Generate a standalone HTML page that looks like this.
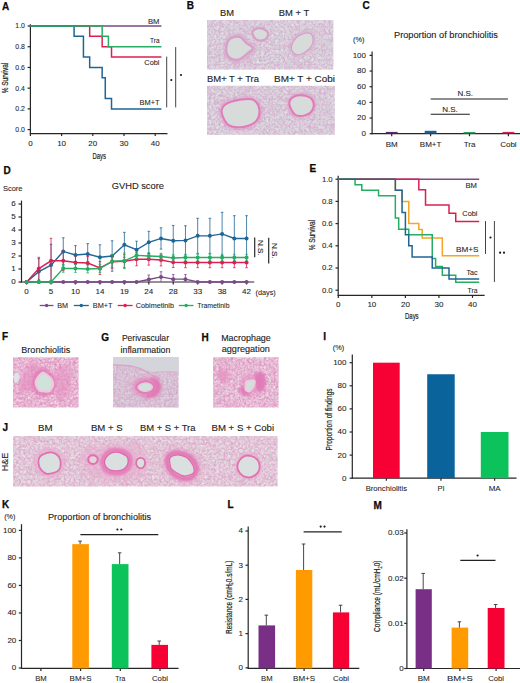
<!DOCTYPE html>
<html><head><meta charset="utf-8"><title>Figure</title>
<style>
html,body{margin:0;padding:0;background:#fff;}
body{width:520px;height:683px;overflow:hidden;}
svg{display:block;}
text{font-family:"Liberation Sans",sans-serif;}
</style></head><body>
<svg width="520" height="683" viewBox="0 0 520 683">
<defs><filter id="f1" x="0" y="0" width="1" height="1" color-interpolation-filters="sRGB"><feTurbulence type="fractalNoise" baseFrequency="0.42" numOctaves="3" seed="8"/><feColorMatrix type="matrix" values="0.16 0 0 0 0.7710  0.16 -0.2 0 0 0.8318  0.16 -0.070 0 0 0.8138  0 0 0 0 1"/></filter><filter id="v1" x="0" y="0" width="1" height="1" color-interpolation-filters="sRGB"><feTurbulence type="turbulence" baseFrequency="0.2" numOctaves="2" seed="11"/><feColorMatrix type="matrix" values="0 0 0 0 0.835  0 0 0 0 0.565  0 0 0 0 0.769  -4 0 0 0 1"/></filter><filter id="f2" x="0" y="0" width="1" height="1" color-interpolation-filters="sRGB"><feTurbulence type="fractalNoise" baseFrequency="0.42" numOctaves="3" seed="15"/><feColorMatrix type="matrix" values="0.16 0 0 0 0.7710  0.16 -0.2 0 0 0.8318  0.16 -0.070 0 0 0.8138  0 0 0 0 1"/></filter><filter id="v2" x="0" y="0" width="1" height="1" color-interpolation-filters="sRGB"><feTurbulence type="turbulence" baseFrequency="0.2" numOctaves="2" seed="18"/><feColorMatrix type="matrix" values="0 0 0 0 0.835  0 0 0 0 0.565  0 0 0 0 0.769  -4 0 0 0 1"/></filter><filter id="f3" x="0" y="0" width="1" height="1" color-interpolation-filters="sRGB"><feTurbulence type="fractalNoise" baseFrequency="0.42" numOctaves="3" seed="22"/><feColorMatrix type="matrix" values="0.16 0 0 0 0.7710  0.16 -0.2 0 0 0.8318  0.16 -0.070 0 0 0.8138  0 0 0 0 1"/></filter><filter id="v3" x="0" y="0" width="1" height="1" color-interpolation-filters="sRGB"><feTurbulence type="turbulence" baseFrequency="0.2" numOctaves="2" seed="25"/><feColorMatrix type="matrix" values="0 0 0 0 0.835  0 0 0 0 0.565  0 0 0 0 0.769  -4 0 0 0 1"/></filter><filter id="f4" x="0" y="0" width="1" height="1" color-interpolation-filters="sRGB"><feTurbulence type="fractalNoise" baseFrequency="0.42" numOctaves="3" seed="29"/><feColorMatrix type="matrix" values="0.16 0 0 0 0.7710  0.16 -0.2 0 0 0.8318  0.16 -0.070 0 0 0.8138  0 0 0 0 1"/></filter><filter id="v4" x="0" y="0" width="1" height="1" color-interpolation-filters="sRGB"><feTurbulence type="turbulence" baseFrequency="0.2" numOctaves="2" seed="32"/><feColorMatrix type="matrix" values="0 0 0 0 0.835  0 0 0 0 0.565  0 0 0 0 0.769  -4 0 0 0 1"/></filter><filter id="f5" x="0" y="0" width="1" height="1" color-interpolation-filters="sRGB"><feTurbulence type="fractalNoise" baseFrequency="0.42" numOctaves="3" seed="36"/><feColorMatrix type="matrix" values="0.28 0 0 0 0.7698  0.28 -0.3 0 0 0.7316  0.28 -0.105 0 0 0.7439  0 0 0 0 1"/></filter><filter id="v5" x="0" y="0" width="1" height="1" color-interpolation-filters="sRGB"><feTurbulence type="turbulence" baseFrequency="0.2" numOctaves="2" seed="39"/><feColorMatrix type="matrix" values="0 0 0 0 0.878  0 0 0 0 0.518  0 0 0 0 0.737  -4 0 0 0 1"/></filter><filter id="f6" x="0" y="0" width="1" height="1" color-interpolation-filters="sRGB"><feTurbulence type="fractalNoise" baseFrequency="0.42" numOctaves="3" seed="43"/><feColorMatrix type="matrix" values="0.16 0 0 0 0.7671  0.16 -0.2 0 0 0.7886  0.16 -0.070 0 0 0.7942  0 0 0 0 1"/></filter><filter id="v6" x="0" y="0" width="1" height="1" color-interpolation-filters="sRGB"><feTurbulence type="turbulence" baseFrequency="0.2" numOctaves="2" seed="46"/><feColorMatrix type="matrix" values="0 0 0 0 0.839  0 0 0 0 0.549  0 0 0 0 0.753  -4 0 0 0 1"/></filter><filter id="f7" x="0" y="0" width="1" height="1" color-interpolation-filters="sRGB"><feTurbulence type="fractalNoise" baseFrequency="0.42" numOctaves="3" seed="50"/><feColorMatrix type="matrix" values="0.28 0 0 0 0.7620  0.28 -0.3 0 0 0.7512  0.28 -0.105 0 0 0.7517  0 0 0 0 1"/></filter><filter id="v7" x="0" y="0" width="1" height="1" color-interpolation-filters="sRGB"><feTurbulence type="turbulence" baseFrequency="0.2" numOctaves="2" seed="53"/><feColorMatrix type="matrix" values="0 0 0 0 0.878  0 0 0 0 0.518  0 0 0 0 0.737  -4 0 0 0 1"/></filter><filter id="f8" x="0" y="0" width="1" height="1" color-interpolation-filters="sRGB"><feTurbulence type="fractalNoise" baseFrequency="0.42" numOctaves="3" seed="57"/><feColorMatrix type="matrix" values="0.2 0 0 0 0.7863  0.2 -0.2 0 0 0.8000  0.2 -0.070 0 0 0.7899  0 0 0 0 1"/></filter><filter id="v8" x="0" y="0" width="1" height="1" color-interpolation-filters="sRGB"><feTurbulence type="turbulence" baseFrequency="0.2" numOctaves="2" seed="60"/><feColorMatrix type="matrix" values="0 0 0 0 0.878  0 0 0 0 0.549  0 0 0 0 0.753  -4 0 0 0 1"/></filter><filter id="bl1" x="-50%" y="-50%" width="200%" height="200%"><feGaussianBlur stdDeviation="0.5"/></filter><filter id="bl2" x="-50%" y="-50%" width="200%" height="200%"><feGaussianBlur stdDeviation="1.0"/></filter><filter id="bl3" x="-50%" y="-50%" width="200%" height="200%"><feGaussianBlur stdDeviation="1.5"/></filter><filter id="bl4" x="-50%" y="-50%" width="200%" height="200%"><feGaussianBlur stdDeviation="2.0"/></filter><filter id="bl5" x="-50%" y="-50%" width="200%" height="200%"><feGaussianBlur stdDeviation="2.5"/></filter><filter id="bl6" x="-50%" y="-50%" width="200%" height="200%"><feGaussianBlur stdDeviation="3.0"/></filter></defs>
<rect width="520" height="683" fill="#fff"/>
<text x="1.90" y="9.60" font-size="10" font-weight="bold" fill="#0a0a0a" stroke="#0a0a0a" stroke-width="0.25">A</text>
<line x1="30.40" y1="24.20" x2="30.40" y2="134.10" stroke="#262626" stroke-width="1.2"/>
<line x1="29.90" y1="133.60" x2="167.50" y2="133.60" stroke="#262626" stroke-width="1.2"/>
<line x1="27.60" y1="129.60" x2="30.40" y2="129.60" stroke="#262626" stroke-width="1.2"/>
<text x="24.90" y="132.00" font-size="8" text-anchor="end" fill="#1e1e1e" stroke="#1e1e1e" stroke-width="0.08" textLength="9.60" lengthAdjust="spacingAndGlyphs">0.0</text>
<line x1="27.60" y1="108.88" x2="30.40" y2="108.88" stroke="#262626" stroke-width="1.2"/>
<text x="24.90" y="111.28" font-size="8" text-anchor="end" fill="#1e1e1e" stroke="#1e1e1e" stroke-width="0.08" textLength="9.60" lengthAdjust="spacingAndGlyphs">0.2</text>
<line x1="27.60" y1="88.16" x2="30.40" y2="88.16" stroke="#262626" stroke-width="1.2"/>
<text x="24.90" y="90.56" font-size="8" text-anchor="end" fill="#1e1e1e" stroke="#1e1e1e" stroke-width="0.08" textLength="9.60" lengthAdjust="spacingAndGlyphs">0.4</text>
<line x1="27.60" y1="67.44" x2="30.40" y2="67.44" stroke="#262626" stroke-width="1.2"/>
<text x="24.90" y="69.84" font-size="8" text-anchor="end" fill="#1e1e1e" stroke="#1e1e1e" stroke-width="0.08" textLength="9.60" lengthAdjust="spacingAndGlyphs">0.6</text>
<line x1="27.60" y1="46.72" x2="30.40" y2="46.72" stroke="#262626" stroke-width="1.2"/>
<text x="24.90" y="49.12" font-size="8" text-anchor="end" fill="#1e1e1e" stroke="#1e1e1e" stroke-width="0.08" textLength="9.60" lengthAdjust="spacingAndGlyphs">0.8</text>
<line x1="27.60" y1="26.00" x2="30.40" y2="26.00" stroke="#262626" stroke-width="1.2"/>
<text x="24.90" y="28.40" font-size="8" text-anchor="end" fill="#1e1e1e" stroke="#1e1e1e" stroke-width="0.08" textLength="9.60" lengthAdjust="spacingAndGlyphs">1.0</text>
<line x1="30.40" y1="133.60" x2="30.40" y2="136.10" stroke="#262626" stroke-width="1.2"/>
<text x="30.40" y="146.00" font-size="8" text-anchor="middle" fill="#1e1e1e" stroke="#1e1e1e" stroke-width="0.08">0</text>
<line x1="61.60" y1="133.60" x2="61.60" y2="136.10" stroke="#262626" stroke-width="1.2"/>
<text x="61.60" y="146.00" font-size="8" text-anchor="middle" fill="#1e1e1e" stroke="#1e1e1e" stroke-width="0.08">10</text>
<line x1="92.80" y1="133.60" x2="92.80" y2="136.10" stroke="#262626" stroke-width="1.2"/>
<text x="92.80" y="146.00" font-size="8" text-anchor="middle" fill="#1e1e1e" stroke="#1e1e1e" stroke-width="0.08">20</text>
<line x1="124.00" y1="133.60" x2="124.00" y2="136.10" stroke="#262626" stroke-width="1.2"/>
<text x="124.00" y="146.00" font-size="8" text-anchor="middle" fill="#1e1e1e" stroke="#1e1e1e" stroke-width="0.08">30</text>
<line x1="155.20" y1="133.60" x2="155.20" y2="136.10" stroke="#262626" stroke-width="1.2"/>
<text x="155.20" y="146.00" font-size="8" text-anchor="middle" fill="#1e1e1e" stroke="#1e1e1e" stroke-width="0.08">40</text>
<text x="99.30" y="158.60" font-size="9" text-anchor="middle" fill="#1e1e1e" stroke="#1e1e1e" stroke-width="0.2" textLength="13.40" lengthAdjust="spacingAndGlyphs">Days</text>
<text x="8.10" y="78.00" font-size="8.8" text-anchor="middle" fill="#1e1e1e" stroke="#1e1e1e" stroke-width="0.2" textLength="30.50" lengthAdjust="spacingAndGlyphs" transform="rotate(-90 8.10 78.00)">% Survival</text>
<polyline points="30.40,26.00 161.44,26.00" fill="none" stroke="#7a4a88" stroke-width="1.5" stroke-linejoin="miter"/>
<polyline points="30.40,26.00 89.68,26.00 89.68,36.36 102.16,36.36 102.16,46.72 111.52,46.72 111.52,57.08 161.44,57.08" fill="none" stroke="#dc1f52" stroke-width="1.5" stroke-linejoin="miter"/>
<polyline points="30.40,26.00 74.08,26.00 74.08,36.36 83.44,36.36 83.44,57.08 89.68,57.08 89.68,67.44 102.16,67.44 102.16,77.80 105.28,77.80 105.28,98.52 111.52,98.52 111.52,108.88 161.44,108.88" fill="none" stroke="#1f6696" stroke-width="1.5" stroke-linejoin="miter"/>
<polyline points="30.40,26.00 102.16,26.00 102.16,36.36 108.40,36.36 108.40,46.72 161.44,46.72" fill="none" stroke="#25ad62" stroke-width="1.5" stroke-linejoin="miter"/>
<text x="159.50" y="23.70" font-size="7.5" text-anchor="end" fill="#1e1e1e" stroke="#1e1e1e" stroke-width="0.08" textLength="11.50" lengthAdjust="spacingAndGlyphs">BM</text>
<text x="159.50" y="43.30" font-size="7.5" text-anchor="end" fill="#1e1e1e" stroke="#1e1e1e" stroke-width="0.08" textLength="9.50" lengthAdjust="spacingAndGlyphs">Tra</text>
<text x="159.50" y="65.20" font-size="7.5" text-anchor="end" fill="#1e1e1e" stroke="#1e1e1e" stroke-width="0.08" textLength="15.20" lengthAdjust="spacingAndGlyphs">Cobi</text>
<text x="159.50" y="105.10" font-size="7.5" text-anchor="end" fill="#1e1e1e" stroke="#1e1e1e" stroke-width="0.08" textLength="20.00" lengthAdjust="spacingAndGlyphs">BM+T</text>
<line x1="166.70" y1="56.60" x2="166.70" y2="107.40" stroke="#444" stroke-width="1"/>
<line x1="175.70" y1="47.10" x2="175.70" y2="107.40" stroke="#444" stroke-width="1"/>
<circle cx="171.30" cy="80.00" r="1.1" fill="#1a1a1a"/>
<circle cx="181.00" cy="75.00" r="1.1" fill="#1a1a1a"/>
<text x="186.70" y="9.20" font-size="10" font-weight="bold" fill="#0a0a0a" stroke="#0a0a0a" stroke-width="0.25">B</text>
<text x="220.00" y="16.10" font-size="8.5" text-anchor="start" fill="#1e1e1e" stroke="#1e1e1e" stroke-width="0.12" textLength="14.00" lengthAdjust="spacingAndGlyphs">BM</text>
<text x="278.80" y="16.10" font-size="8.5" text-anchor="start" fill="#1e1e1e" stroke="#1e1e1e" stroke-width="0.12" textLength="30.40" lengthAdjust="spacingAndGlyphs">BM + T</text>
<text x="207.00" y="82.00" font-size="8.5" text-anchor="start" fill="#1e1e1e" stroke="#1e1e1e" stroke-width="0.12" textLength="52.00" lengthAdjust="spacingAndGlyphs">BM+ T + Tra</text>
<text x="274.00" y="82.00" font-size="8.5" text-anchor="start" fill="#1e1e1e" stroke="#1e1e1e" stroke-width="0.12" textLength="61.00" lengthAdjust="spacingAndGlyphs">BM+ T + Cobi</text>
<clipPath id="c1"><rect x="207" y="20" width="63" height="49.5"/></clipPath>
<g clip-path="url(#c1)">
<rect x="207" y="20" width="63" height="49.5" fill="#d9cfdb" filter="url(#f1)"/>
<rect x="207" y="20" width="63" height="49.5" fill="#fff" filter="url(#v1)" opacity="0.45"/>
<path d="M226.30,47.34 C226.52,44.68 227.70,41.42 229.13,39.67 C230.56,37.92 232.96,37.23 234.89,36.84 C236.82,36.45 238.86,36.34 240.71,37.34 C242.57,38.35 244.02,41.09 246.02,42.87 C248.02,44.64 252.41,46.29 252.70,48.00 C252.99,49.72 249.87,51.33 247.76,53.16 C245.65,54.99 242.49,57.94 240.03,58.98 C237.58,60.02 235.07,59.96 233.04,59.41 C231.01,58.85 228.97,57.64 227.85,55.63 C226.73,53.62 226.09,50.00 226.30,47.34Z" fill="none" stroke="#d6a4cb" stroke-width="6" stroke-linejoin="round" opacity="0.7" filter="url(#bl3)"/>
<path d="M226.30,47.34 C226.52,44.68 227.70,41.42 229.13,39.67 C230.56,37.92 232.96,37.23 234.89,36.84 C236.82,36.45 238.86,36.34 240.71,37.34 C242.57,38.35 244.02,41.09 246.02,42.87 C248.02,44.64 252.41,46.29 252.70,48.00 C252.99,49.72 249.87,51.33 247.76,53.16 C245.65,54.99 242.49,57.94 240.03,58.98 C237.58,60.02 235.07,59.96 233.04,59.41 C231.01,58.85 228.97,57.64 227.85,55.63 C226.73,53.62 226.09,50.00 226.30,47.34Z" fill="#d7dcdb" stroke="#d8a0c8" stroke-width="2.2" stroke-linejoin="round" opacity="1" filter="url(#bl1)"/>
<path d="M252.31,32.83 C252.12,31.12 253.64,29.95 255.11,29.20 C256.58,28.44 259.15,27.91 261.15,28.31 C263.15,28.71 266.05,30.25 267.13,31.59 C268.21,32.94 268.24,34.96 267.64,36.38 C267.04,37.79 265.44,39.55 263.55,40.07 C261.65,40.58 258.15,40.66 256.27,39.45 C254.40,38.25 252.51,34.54 252.31,32.83Z" fill="none" stroke="#d6a4cb" stroke-width="3" stroke-linejoin="round" opacity="0.45" filter="url(#bl3)"/>
<path d="M252.31,32.83 C252.12,31.12 253.64,29.95 255.11,29.20 C256.58,28.44 259.15,27.91 261.15,28.31 C263.15,28.71 266.05,30.25 267.13,31.59 C268.21,32.94 268.24,34.96 267.64,36.38 C267.04,37.79 265.44,39.55 263.55,40.07 C261.65,40.58 258.15,40.66 256.27,39.45 C254.40,38.25 252.51,34.54 252.31,32.83Z" fill="#d7dcdb" stroke="#d8a0c8" stroke-width="2.2" stroke-linejoin="round" opacity="1" filter="url(#bl1)"/>
</g>
<clipPath id="c2"><rect x="270" y="20" width="63.4" height="49.5"/></clipPath>
<g clip-path="url(#c2)">
<rect x="270" y="20" width="63.4" height="49.5" fill="#d9cfdb" filter="url(#f2)"/>
<rect x="270" y="20" width="63.4" height="49.5" fill="#fff" filter="url(#v2)" opacity="0.45"/>
<path d="M291.39,48.47 C291.15,45.96 293.00,41.90 294.93,39.46 C296.86,37.01 300.46,34.79 303.00,33.80 C305.54,32.81 308.51,32.57 310.20,33.52 C311.89,34.48 312.96,37.41 313.12,39.56 C313.27,41.70 312.63,44.21 311.13,46.39 C309.64,48.58 306.61,51.34 304.15,52.69 C301.69,54.05 298.51,55.23 296.38,54.53 C294.25,53.82 291.64,50.98 291.39,48.47Z" fill="none" stroke="#d6a4cb" stroke-width="6" stroke-linejoin="round" opacity="0.5" filter="url(#bl3)"/>
<path d="M291.39,48.47 C291.15,45.96 293.00,41.90 294.93,39.46 C296.86,37.01 300.46,34.79 303.00,33.80 C305.54,32.81 308.51,32.57 310.20,33.52 C311.89,34.48 312.96,37.41 313.12,39.56 C313.27,41.70 312.63,44.21 311.13,46.39 C309.64,48.58 306.61,51.34 304.15,52.69 C301.69,54.05 298.51,55.23 296.38,54.53 C294.25,53.82 291.64,50.98 291.39,48.47Z" fill="#d7dcdb" stroke="#d8a0c8" stroke-width="1.2" stroke-linejoin="round" opacity="1" filter="url(#bl1)"/>
</g>
<clipPath id="c3"><rect x="207" y="85.7" width="63" height="49"/></clipPath>
<g clip-path="url(#c3)">
<rect x="207" y="85.7" width="63" height="49" fill="#d9cfdb" filter="url(#f3)"/>
<rect x="207" y="85.7" width="63" height="49" fill="#fff" filter="url(#v3)" opacity="0.45"/>
<path d="M221.80,113.05 C221.17,109.56 222.41,106.67 225.43,104.46 C228.44,102.26 235.32,100.61 239.88,99.81 C244.45,99.00 249.60,98.12 252.81,99.62 C256.03,101.11 258.55,105.28 259.18,108.77 C259.80,112.26 259.05,117.58 256.56,120.57 C254.07,123.55 248.82,125.87 244.26,126.67 C239.69,127.48 232.93,127.66 229.19,125.39 C225.45,123.12 222.43,116.53 221.80,113.05Z" fill="none" stroke="#e090c4" stroke-width="5" stroke-linejoin="round" opacity="0.6" filter="url(#bl3)"/>
<path d="M221.80,113.05 C221.17,109.56 222.41,106.67 225.43,104.46 C228.44,102.26 235.32,100.61 239.88,99.81 C244.45,99.00 249.60,98.12 252.81,99.62 C256.03,101.11 258.55,105.28 259.18,108.77 C259.80,112.26 259.05,117.58 256.56,120.57 C254.07,123.55 248.82,125.87 244.26,126.67 C239.69,127.48 232.93,127.66 229.19,125.39 C225.45,123.12 222.43,116.53 221.80,113.05Z" fill="#d7dcdb" stroke="#e27cb8" stroke-width="2.0" stroke-linejoin="round" opacity="1" filter="url(#bl1)"/>
</g>
<clipPath id="c4"><rect x="270" y="85.7" width="64.8" height="49"/></clipPath>
<g clip-path="url(#c4)">
<rect x="270" y="85.7" width="64.8" height="49" fill="#d9cfdb" filter="url(#f4)"/>
<rect x="270" y="85.7" width="64.8" height="49" fill="#fff" filter="url(#v4)" opacity="0.45"/>
<path d="M289.31,103.88 C289.12,100.85 291.50,97.95 294.19,96.62 C296.87,95.28 302.34,95.22 305.40,95.87 C308.47,96.52 311.40,98.25 312.60,100.51 C313.80,102.78 313.82,107.01 312.61,109.45 C311.41,111.89 308.26,114.25 305.38,115.14 C302.49,116.03 297.99,116.66 295.31,114.78 C292.63,112.90 289.49,106.91 289.31,103.88Z" fill="none" stroke="#e090c4" stroke-width="5" stroke-linejoin="round" opacity="0.6" filter="url(#bl3)"/>
<path d="M289.31,103.88 C289.12,100.85 291.50,97.95 294.19,96.62 C296.87,95.28 302.34,95.22 305.40,95.87 C308.47,96.52 311.40,98.25 312.60,100.51 C313.80,102.78 313.82,107.01 312.61,109.45 C311.41,111.89 308.26,114.25 305.38,115.14 C302.49,116.03 297.99,116.66 295.31,114.78 C292.63,112.90 289.49,106.91 289.31,103.88Z" fill="#d7dcdb" stroke="#e27cb8" stroke-width="2.0" stroke-linejoin="round" opacity="1" filter="url(#bl1)"/>
</g>
<text x="362.50" y="9.40" font-size="10" font-weight="bold" fill="#0a0a0a" stroke="#0a0a0a" stroke-width="0.25">C</text>
<text x="394.00" y="38.00" font-size="8.5" text-anchor="start" fill="#1e1e1e" stroke="#1e1e1e" stroke-width="0.12" textLength="103.90" lengthAdjust="spacingAndGlyphs">Proportion of bronchiolitis</text>
<text x="353.10" y="41.70" font-size="7.4" text-anchor="start" fill="#1e1e1e" stroke="#1e1e1e" stroke-width="0.08" textLength="11.40" lengthAdjust="spacingAndGlyphs">(%)</text>
<line x1="372.10" y1="51.50" x2="372.10" y2="134.20" stroke="#262626" stroke-width="1.2"/>
<line x1="371.60" y1="133.70" x2="520.00" y2="133.70" stroke="#262626" stroke-width="1.2"/>
<line x1="369.60" y1="133.70" x2="372.10" y2="133.70" stroke="#262626" stroke-width="1.2"/>
<text x="366.00" y="136.10" font-size="8" text-anchor="end" fill="#1e1e1e" stroke="#1e1e1e" stroke-width="0.08">0</text>
<line x1="369.60" y1="118.04" x2="372.10" y2="118.04" stroke="#262626" stroke-width="1.2"/>
<text x="366.00" y="120.44" font-size="8" text-anchor="end" fill="#1e1e1e" stroke="#1e1e1e" stroke-width="0.08">20</text>
<line x1="369.60" y1="102.38" x2="372.10" y2="102.38" stroke="#262626" stroke-width="1.2"/>
<text x="366.00" y="104.78" font-size="8" text-anchor="end" fill="#1e1e1e" stroke="#1e1e1e" stroke-width="0.08">40</text>
<line x1="369.60" y1="86.72" x2="372.10" y2="86.72" stroke="#262626" stroke-width="1.2"/>
<text x="366.00" y="89.12" font-size="8" text-anchor="end" fill="#1e1e1e" stroke="#1e1e1e" stroke-width="0.08">60</text>
<line x1="369.60" y1="71.06" x2="372.10" y2="71.06" stroke="#262626" stroke-width="1.2"/>
<text x="366.00" y="73.46" font-size="8" text-anchor="end" fill="#1e1e1e" stroke="#1e1e1e" stroke-width="0.08">80</text>
<line x1="369.60" y1="55.40" x2="372.10" y2="55.40" stroke="#262626" stroke-width="1.2"/>
<text x="366.00" y="57.80" font-size="8" text-anchor="end" fill="#1e1e1e" stroke="#1e1e1e" stroke-width="0.08">100</text>
<rect x="385.80" y="131.90" width="11.80" height="1.60" fill="#5a2d6a"/>
<line x1="391.70" y1="133.70" x2="391.70" y2="136.20" stroke="#262626" stroke-width="1.2"/>
<text x="391.70" y="146.60" font-size="8" text-anchor="middle" fill="#1e1e1e" stroke="#1e1e1e" stroke-width="0.08">BM</text>
<rect x="424.70" y="130.80" width="11.80" height="2.70" fill="#1f5f96"/>
<line x1="430.60" y1="133.70" x2="430.60" y2="136.20" stroke="#262626" stroke-width="1.2"/>
<text x="430.60" y="146.60" font-size="8" text-anchor="middle" fill="#1e1e1e" stroke="#1e1e1e" stroke-width="0.08">BM+T</text>
<rect x="463.60" y="132.00" width="11.80" height="1.50" fill="#2a9f60"/>
<line x1="469.50" y1="133.70" x2="469.50" y2="136.20" stroke="#262626" stroke-width="1.2"/>
<text x="469.50" y="146.60" font-size="8" text-anchor="middle" fill="#1e1e1e" stroke="#1e1e1e" stroke-width="0.08">Tra</text>
<rect x="502.50" y="131.90" width="11.80" height="1.60" fill="#d42052"/>
<line x1="508.40" y1="133.70" x2="508.40" y2="136.20" stroke="#262626" stroke-width="1.2"/>
<text x="508.40" y="146.60" font-size="8" text-anchor="middle" fill="#1e1e1e" stroke="#1e1e1e" stroke-width="0.08">Cobi</text>
<line x1="430.70" y1="99.00" x2="507.90" y2="99.00" stroke="#1e1e1e" stroke-width="1.1"/>
<line x1="430.70" y1="114.30" x2="469.80" y2="114.30" stroke="#1e1e1e" stroke-width="1.1"/>
<text x="465.30" y="96.00" font-size="8" text-anchor="middle" fill="#1e1e1e" stroke="#1e1e1e" stroke-width="0.08">N.S.</text>
<text x="450.00" y="111.60" font-size="8" text-anchor="middle" fill="#1e1e1e" stroke="#1e1e1e" stroke-width="0.08">N.S.</text>
<text x="3.60" y="174.10" font-size="10" font-weight="bold" fill="#0a0a0a" stroke="#0a0a0a" stroke-width="0.25">D</text>
<text x="2.90" y="191.00" font-size="8" text-anchor="start" fill="#1e1e1e" stroke="#1e1e1e" stroke-width="0.08" textLength="19.60" lengthAdjust="spacingAndGlyphs">Score</text>
<text x="111.70" y="189.00" font-size="9.3" text-anchor="start" fill="#1e1e1e" stroke="#1e1e1e" stroke-width="0.12" textLength="52.30" lengthAdjust="spacingAndGlyphs">GVHD score</text>
<line x1="21.50" y1="200.60" x2="21.50" y2="282.50" stroke="#262626" stroke-width="1.2"/>
<line x1="21.00" y1="282.00" x2="254.20" y2="282.00" stroke="#262626" stroke-width="1.2"/>
<line x1="18.50" y1="282.00" x2="21.50" y2="282.00" stroke="#262626" stroke-width="1.2"/>
<text x="15.60" y="284.40" font-size="8" text-anchor="end" fill="#1e1e1e" stroke="#1e1e1e" stroke-width="0.08">0</text>
<line x1="18.50" y1="269.00" x2="21.50" y2="269.00" stroke="#262626" stroke-width="1.2"/>
<text x="15.60" y="271.40" font-size="8" text-anchor="end" fill="#1e1e1e" stroke="#1e1e1e" stroke-width="0.08">1</text>
<line x1="18.50" y1="256.00" x2="21.50" y2="256.00" stroke="#262626" stroke-width="1.2"/>
<text x="15.60" y="258.40" font-size="8" text-anchor="end" fill="#1e1e1e" stroke="#1e1e1e" stroke-width="0.08">2</text>
<line x1="18.50" y1="243.00" x2="21.50" y2="243.00" stroke="#262626" stroke-width="1.2"/>
<text x="15.60" y="245.40" font-size="8" text-anchor="end" fill="#1e1e1e" stroke="#1e1e1e" stroke-width="0.08">3</text>
<line x1="18.50" y1="230.00" x2="21.50" y2="230.00" stroke="#262626" stroke-width="1.2"/>
<text x="15.60" y="232.40" font-size="8" text-anchor="end" fill="#1e1e1e" stroke="#1e1e1e" stroke-width="0.08">4</text>
<line x1="18.50" y1="217.00" x2="21.50" y2="217.00" stroke="#262626" stroke-width="1.2"/>
<text x="15.60" y="219.40" font-size="8" text-anchor="end" fill="#1e1e1e" stroke="#1e1e1e" stroke-width="0.08">5</text>
<line x1="18.50" y1="204.00" x2="21.50" y2="204.00" stroke="#262626" stroke-width="1.2"/>
<text x="15.60" y="206.40" font-size="8" text-anchor="end" fill="#1e1e1e" stroke="#1e1e1e" stroke-width="0.08">6</text>
<line x1="26.60" y1="282.00" x2="26.60" y2="284.50" stroke="#262626" stroke-width="1.2"/>
<text x="26.60" y="294.20" font-size="8" text-anchor="middle" fill="#1e1e1e" stroke="#1e1e1e" stroke-width="0.08">0</text>
<line x1="51.04" y1="282.00" x2="51.04" y2="284.50" stroke="#262626" stroke-width="1.2"/>
<text x="51.04" y="294.20" font-size="8" text-anchor="middle" fill="#1e1e1e" stroke="#1e1e1e" stroke-width="0.08">5</text>
<line x1="75.48" y1="282.00" x2="75.48" y2="284.50" stroke="#262626" stroke-width="1.2"/>
<text x="75.48" y="294.20" font-size="8" text-anchor="middle" fill="#1e1e1e" stroke="#1e1e1e" stroke-width="0.08">10</text>
<line x1="99.92" y1="282.00" x2="99.92" y2="284.50" stroke="#262626" stroke-width="1.2"/>
<text x="99.92" y="294.20" font-size="8" text-anchor="middle" fill="#1e1e1e" stroke="#1e1e1e" stroke-width="0.08">14</text>
<line x1="124.36" y1="282.00" x2="124.36" y2="284.50" stroke="#262626" stroke-width="1.2"/>
<text x="124.36" y="294.20" font-size="8" text-anchor="middle" fill="#1e1e1e" stroke="#1e1e1e" stroke-width="0.08">19</text>
<line x1="148.80" y1="282.00" x2="148.80" y2="284.50" stroke="#262626" stroke-width="1.2"/>
<text x="148.80" y="294.20" font-size="8" text-anchor="middle" fill="#1e1e1e" stroke="#1e1e1e" stroke-width="0.08">24</text>
<line x1="173.24" y1="282.00" x2="173.24" y2="284.50" stroke="#262626" stroke-width="1.2"/>
<text x="173.24" y="294.20" font-size="8" text-anchor="middle" fill="#1e1e1e" stroke="#1e1e1e" stroke-width="0.08">28</text>
<line x1="197.68" y1="282.00" x2="197.68" y2="284.50" stroke="#262626" stroke-width="1.2"/>
<text x="197.68" y="294.20" font-size="8" text-anchor="middle" fill="#1e1e1e" stroke="#1e1e1e" stroke-width="0.08">33</text>
<line x1="222.12" y1="282.00" x2="222.12" y2="284.50" stroke="#262626" stroke-width="1.2"/>
<text x="222.12" y="294.20" font-size="8" text-anchor="middle" fill="#1e1e1e" stroke="#1e1e1e" stroke-width="0.08">38</text>
<line x1="246.56" y1="282.00" x2="246.56" y2="284.50" stroke="#262626" stroke-width="1.2"/>
<text x="246.56" y="294.20" font-size="8" text-anchor="middle" fill="#1e1e1e" stroke="#1e1e1e" stroke-width="0.08">42</text>
<text x="255.60" y="294.50" font-size="8" text-anchor="start" fill="#1e1e1e" stroke="#1e1e1e" stroke-width="0.08" textLength="20.20" lengthAdjust="spacingAndGlyphs">(days)</text>
<line x1="148.80" y1="274.98" x2="148.80" y2="282.00" stroke="#7a4a88" stroke-width="0.8"/>
<line x1="147.50" y1="274.98" x2="150.10" y2="274.98" stroke="#7a4a88" stroke-width="0.8"/>
<line x1="161.02" y1="271.73" x2="161.02" y2="282.00" stroke="#7a4a88" stroke-width="0.8"/>
<line x1="159.72" y1="271.73" x2="162.32" y2="271.73" stroke="#7a4a88" stroke-width="0.8"/>
<line x1="173.24" y1="274.59" x2="173.24" y2="282.00" stroke="#7a4a88" stroke-width="0.8"/>
<line x1="171.94" y1="274.59" x2="174.54" y2="274.59" stroke="#7a4a88" stroke-width="0.8"/>
<line x1="185.46" y1="274.59" x2="185.46" y2="282.00" stroke="#7a4a88" stroke-width="0.8"/>
<line x1="184.16" y1="274.59" x2="186.76" y2="274.59" stroke="#7a4a88" stroke-width="0.8"/>
<polyline points="26.60,282.00 38.82,282.00 51.04,282.00 63.26,282.00 75.48,282.00 87.70,282.00 99.92,282.00 112.14,282.00 124.36,282.00 136.58,282.00 148.80,279.53 161.02,276.93 173.24,279.14 185.46,279.14 197.68,282.00 209.90,282.00 222.12,282.00 234.34,282.00 246.56,282.00" fill="none" stroke="#7a4a88" stroke-width="1.4" stroke-linejoin="miter"/>
<circle cx="26.60" cy="282.00" r="2.0" fill="#7a4a88"/>
<circle cx="38.82" cy="282.00" r="2.0" fill="#7a4a88"/>
<circle cx="51.04" cy="282.00" r="2.0" fill="#7a4a88"/>
<circle cx="63.26" cy="282.00" r="2.0" fill="#7a4a88"/>
<circle cx="75.48" cy="282.00" r="2.0" fill="#7a4a88"/>
<circle cx="87.70" cy="282.00" r="2.0" fill="#7a4a88"/>
<circle cx="99.92" cy="282.00" r="2.0" fill="#7a4a88"/>
<circle cx="112.14" cy="282.00" r="2.0" fill="#7a4a88"/>
<circle cx="124.36" cy="282.00" r="2.0" fill="#7a4a88"/>
<circle cx="136.58" cy="282.00" r="2.0" fill="#7a4a88"/>
<circle cx="148.80" cy="279.53" r="2.0" fill="#7a4a88"/>
<circle cx="161.02" cy="276.93" r="2.0" fill="#7a4a88"/>
<circle cx="173.24" cy="279.14" r="2.0" fill="#7a4a88"/>
<circle cx="185.46" cy="279.14" r="2.0" fill="#7a4a88"/>
<circle cx="197.68" cy="282.00" r="2.0" fill="#7a4a88"/>
<circle cx="209.90" cy="282.00" r="2.0" fill="#7a4a88"/>
<circle cx="222.12" cy="282.00" r="2.0" fill="#7a4a88"/>
<circle cx="234.34" cy="282.00" r="2.0" fill="#7a4a88"/>
<circle cx="246.56" cy="282.00" r="2.0" fill="#7a4a88"/>
<line x1="38.82" y1="258.60" x2="38.82" y2="282.00" stroke="#1f6696" stroke-width="0.8"/>
<line x1="37.52" y1="258.60" x2="40.12" y2="258.60" stroke="#1f6696" stroke-width="0.8"/>
<line x1="51.04" y1="244.30" x2="51.04" y2="282.00" stroke="#1f6696" stroke-width="0.8"/>
<line x1="49.74" y1="244.30" x2="52.34" y2="244.30" stroke="#1f6696" stroke-width="0.8"/>
<line x1="63.26" y1="237.80" x2="63.26" y2="265.10" stroke="#1f6696" stroke-width="0.8"/>
<line x1="61.96" y1="237.80" x2="64.56" y2="237.80" stroke="#1f6696" stroke-width="0.8"/>
<line x1="61.96" y1="265.10" x2="64.56" y2="265.10" stroke="#1f6696" stroke-width="0.8"/>
<line x1="75.48" y1="245.60" x2="75.48" y2="264.32" stroke="#1f6696" stroke-width="0.8"/>
<line x1="74.18" y1="245.60" x2="76.78" y2="245.60" stroke="#1f6696" stroke-width="0.8"/>
<line x1="74.18" y1="264.32" x2="76.78" y2="264.32" stroke="#1f6696" stroke-width="0.8"/>
<line x1="87.70" y1="243.65" x2="87.70" y2="264.45" stroke="#1f6696" stroke-width="0.8"/>
<line x1="86.40" y1="243.65" x2="89.00" y2="243.65" stroke="#1f6696" stroke-width="0.8"/>
<line x1="86.40" y1="264.45" x2="89.00" y2="264.45" stroke="#1f6696" stroke-width="0.8"/>
<line x1="99.92" y1="244.82" x2="99.92" y2="269.78" stroke="#1f6696" stroke-width="0.8"/>
<line x1="98.62" y1="244.82" x2="101.22" y2="244.82" stroke="#1f6696" stroke-width="0.8"/>
<line x1="98.62" y1="269.78" x2="101.22" y2="269.78" stroke="#1f6696" stroke-width="0.8"/>
<line x1="112.14" y1="240.79" x2="112.14" y2="271.21" stroke="#1f6696" stroke-width="0.8"/>
<line x1="110.84" y1="240.79" x2="113.44" y2="240.79" stroke="#1f6696" stroke-width="0.8"/>
<line x1="110.84" y1="271.21" x2="113.44" y2="271.21" stroke="#1f6696" stroke-width="0.8"/>
<line x1="124.36" y1="232.34" x2="124.36" y2="257.30" stroke="#1f6696" stroke-width="0.8"/>
<line x1="123.06" y1="232.34" x2="125.66" y2="232.34" stroke="#1f6696" stroke-width="0.8"/>
<line x1="123.06" y1="257.30" x2="125.66" y2="257.30" stroke="#1f6696" stroke-width="0.8"/>
<line x1="136.58" y1="241.18" x2="136.58" y2="258.34" stroke="#1f6696" stroke-width="0.8"/>
<line x1="135.28" y1="241.18" x2="137.88" y2="241.18" stroke="#1f6696" stroke-width="0.8"/>
<line x1="135.28" y1="258.34" x2="137.88" y2="258.34" stroke="#1f6696" stroke-width="0.8"/>
<line x1="148.80" y1="231.30" x2="148.80" y2="253.40" stroke="#1f6696" stroke-width="0.8"/>
<line x1="147.50" y1="231.30" x2="150.10" y2="231.30" stroke="#1f6696" stroke-width="0.8"/>
<line x1="147.50" y1="253.40" x2="150.10" y2="253.40" stroke="#1f6696" stroke-width="0.8"/>
<line x1="161.02" y1="227.79" x2="161.02" y2="249.11" stroke="#1f6696" stroke-width="0.8"/>
<line x1="159.72" y1="227.79" x2="162.32" y2="227.79" stroke="#1f6696" stroke-width="0.8"/>
<line x1="159.72" y1="249.11" x2="162.32" y2="249.11" stroke="#1f6696" stroke-width="0.8"/>
<line x1="173.24" y1="225.45" x2="173.24" y2="256.13" stroke="#1f6696" stroke-width="0.8"/>
<line x1="171.94" y1="225.45" x2="174.54" y2="225.45" stroke="#1f6696" stroke-width="0.8"/>
<line x1="171.94" y1="256.13" x2="174.54" y2="256.13" stroke="#1f6696" stroke-width="0.8"/>
<line x1="185.46" y1="225.71" x2="185.46" y2="255.09" stroke="#1f6696" stroke-width="0.8"/>
<line x1="184.16" y1="225.71" x2="186.76" y2="225.71" stroke="#1f6696" stroke-width="0.8"/>
<line x1="184.16" y1="255.09" x2="186.76" y2="255.09" stroke="#1f6696" stroke-width="0.8"/>
<line x1="197.68" y1="218.30" x2="197.68" y2="253.40" stroke="#1f6696" stroke-width="0.8"/>
<line x1="196.38" y1="218.30" x2="198.98" y2="218.30" stroke="#1f6696" stroke-width="0.8"/>
<line x1="196.38" y1="253.40" x2="198.98" y2="253.40" stroke="#1f6696" stroke-width="0.8"/>
<line x1="209.90" y1="218.30" x2="209.90" y2="253.40" stroke="#1f6696" stroke-width="0.8"/>
<line x1="208.60" y1="218.30" x2="211.20" y2="218.30" stroke="#1f6696" stroke-width="0.8"/>
<line x1="208.60" y1="253.40" x2="211.20" y2="253.40" stroke="#1f6696" stroke-width="0.8"/>
<line x1="222.12" y1="212.32" x2="222.12" y2="255.48" stroke="#1f6696" stroke-width="0.8"/>
<line x1="220.82" y1="212.32" x2="223.42" y2="212.32" stroke="#1f6696" stroke-width="0.8"/>
<line x1="220.82" y1="255.48" x2="223.42" y2="255.48" stroke="#1f6696" stroke-width="0.8"/>
<line x1="234.34" y1="215.70" x2="234.34" y2="261.20" stroke="#1f6696" stroke-width="0.8"/>
<line x1="233.04" y1="215.70" x2="235.64" y2="215.70" stroke="#1f6696" stroke-width="0.8"/>
<line x1="233.04" y1="261.20" x2="235.64" y2="261.20" stroke="#1f6696" stroke-width="0.8"/>
<line x1="246.56" y1="215.70" x2="246.56" y2="261.20" stroke="#1f6696" stroke-width="0.8"/>
<line x1="245.26" y1="215.70" x2="247.86" y2="215.70" stroke="#1f6696" stroke-width="0.8"/>
<line x1="245.26" y1="261.20" x2="247.86" y2="261.20" stroke="#1f6696" stroke-width="0.8"/>
<polyline points="26.60,282.00 38.82,271.60 51.04,265.10 63.26,251.45 75.48,254.96 87.70,254.05 99.92,257.30 112.14,256.00 124.36,244.82 136.58,249.76 148.80,242.35 161.02,238.45 173.24,240.79 185.46,240.40 197.68,235.85 209.90,235.85 222.12,233.90 234.34,238.45 246.56,238.45" fill="none" stroke="#1f6696" stroke-width="1.4" stroke-linejoin="miter"/>
<circle cx="26.60" cy="282.00" r="2.0" fill="#1f6696"/>
<circle cx="38.82" cy="271.60" r="2.0" fill="#1f6696"/>
<circle cx="51.04" cy="265.10" r="2.0" fill="#1f6696"/>
<circle cx="63.26" cy="251.45" r="2.0" fill="#1f6696"/>
<circle cx="75.48" cy="254.96" r="2.0" fill="#1f6696"/>
<circle cx="87.70" cy="254.05" r="2.0" fill="#1f6696"/>
<circle cx="99.92" cy="257.30" r="2.0" fill="#1f6696"/>
<circle cx="112.14" cy="256.00" r="2.0" fill="#1f6696"/>
<circle cx="124.36" cy="244.82" r="2.0" fill="#1f6696"/>
<circle cx="136.58" cy="249.76" r="2.0" fill="#1f6696"/>
<circle cx="148.80" cy="242.35" r="2.0" fill="#1f6696"/>
<circle cx="161.02" cy="238.45" r="2.0" fill="#1f6696"/>
<circle cx="173.24" cy="240.79" r="2.0" fill="#1f6696"/>
<circle cx="185.46" cy="240.40" r="2.0" fill="#1f6696"/>
<circle cx="197.68" cy="235.85" r="2.0" fill="#1f6696"/>
<circle cx="209.90" cy="235.85" r="2.0" fill="#1f6696"/>
<circle cx="222.12" cy="233.90" r="2.0" fill="#1f6696"/>
<circle cx="234.34" cy="238.45" r="2.0" fill="#1f6696"/>
<circle cx="246.56" cy="238.45" r="2.0" fill="#1f6696"/>
<line x1="38.82" y1="257.30" x2="38.82" y2="279.92" stroke="#dc1f52" stroke-width="0.8"/>
<line x1="37.52" y1="257.30" x2="40.12" y2="257.30" stroke="#dc1f52" stroke-width="0.8"/>
<line x1="37.52" y1="279.92" x2="40.12" y2="279.92" stroke="#dc1f52" stroke-width="0.8"/>
<line x1="51.04" y1="238.32" x2="51.04" y2="282.00" stroke="#dc1f52" stroke-width="0.8"/>
<line x1="49.74" y1="238.32" x2="52.34" y2="238.32" stroke="#dc1f52" stroke-width="0.8"/>
<line x1="63.26" y1="251.06" x2="63.26" y2="270.56" stroke="#dc1f52" stroke-width="0.8"/>
<line x1="61.96" y1="251.06" x2="64.56" y2="251.06" stroke="#dc1f52" stroke-width="0.8"/>
<line x1="61.96" y1="270.56" x2="64.56" y2="270.56" stroke="#dc1f52" stroke-width="0.8"/>
<line x1="75.48" y1="256.00" x2="75.48" y2="269.00" stroke="#dc1f52" stroke-width="0.8"/>
<line x1="74.18" y1="256.00" x2="76.78" y2="256.00" stroke="#dc1f52" stroke-width="0.8"/>
<line x1="74.18" y1="269.00" x2="76.78" y2="269.00" stroke="#dc1f52" stroke-width="0.8"/>
<line x1="87.70" y1="256.52" x2="87.70" y2="269.52" stroke="#dc1f52" stroke-width="0.8"/>
<line x1="86.40" y1="256.52" x2="89.00" y2="256.52" stroke="#dc1f52" stroke-width="0.8"/>
<line x1="86.40" y1="269.52" x2="89.00" y2="269.52" stroke="#dc1f52" stroke-width="0.8"/>
<line x1="99.92" y1="261.46" x2="99.92" y2="274.46" stroke="#dc1f52" stroke-width="0.8"/>
<line x1="98.62" y1="261.46" x2="101.22" y2="261.46" stroke="#dc1f52" stroke-width="0.8"/>
<line x1="98.62" y1="274.46" x2="101.22" y2="274.46" stroke="#dc1f52" stroke-width="0.8"/>
<line x1="112.14" y1="255.22" x2="112.14" y2="268.22" stroke="#dc1f52" stroke-width="0.8"/>
<line x1="110.84" y1="255.22" x2="113.44" y2="255.22" stroke="#dc1f52" stroke-width="0.8"/>
<line x1="110.84" y1="268.22" x2="113.44" y2="268.22" stroke="#dc1f52" stroke-width="0.8"/>
<line x1="124.36" y1="254.70" x2="124.36" y2="267.70" stroke="#dc1f52" stroke-width="0.8"/>
<line x1="123.06" y1="254.70" x2="125.66" y2="254.70" stroke="#dc1f52" stroke-width="0.8"/>
<line x1="123.06" y1="267.70" x2="125.66" y2="267.70" stroke="#dc1f52" stroke-width="0.8"/>
<line x1="136.58" y1="252.75" x2="136.58" y2="265.75" stroke="#dc1f52" stroke-width="0.8"/>
<line x1="135.28" y1="252.75" x2="137.88" y2="252.75" stroke="#dc1f52" stroke-width="0.8"/>
<line x1="135.28" y1="265.75" x2="137.88" y2="265.75" stroke="#dc1f52" stroke-width="0.8"/>
<line x1="148.80" y1="253.40" x2="148.80" y2="265.10" stroke="#dc1f52" stroke-width="0.8"/>
<line x1="147.50" y1="253.40" x2="150.10" y2="253.40" stroke="#dc1f52" stroke-width="0.8"/>
<line x1="147.50" y1="265.10" x2="150.10" y2="265.10" stroke="#dc1f52" stroke-width="0.8"/>
<line x1="161.02" y1="254.18" x2="161.02" y2="265.88" stroke="#dc1f52" stroke-width="0.8"/>
<line x1="159.72" y1="254.18" x2="162.32" y2="254.18" stroke="#dc1f52" stroke-width="0.8"/>
<line x1="159.72" y1="265.88" x2="162.32" y2="265.88" stroke="#dc1f52" stroke-width="0.8"/>
<line x1="173.24" y1="257.17" x2="173.24" y2="267.57" stroke="#dc1f52" stroke-width="0.8"/>
<line x1="171.94" y1="257.17" x2="174.54" y2="257.17" stroke="#dc1f52" stroke-width="0.8"/>
<line x1="171.94" y1="267.57" x2="174.54" y2="267.57" stroke="#dc1f52" stroke-width="0.8"/>
<line x1="185.46" y1="257.30" x2="185.46" y2="267.70" stroke="#dc1f52" stroke-width="0.8"/>
<line x1="184.16" y1="257.30" x2="186.76" y2="257.30" stroke="#dc1f52" stroke-width="0.8"/>
<line x1="184.16" y1="267.70" x2="186.76" y2="267.70" stroke="#dc1f52" stroke-width="0.8"/>
<line x1="197.68" y1="257.30" x2="197.68" y2="267.70" stroke="#dc1f52" stroke-width="0.8"/>
<line x1="196.38" y1="257.30" x2="198.98" y2="257.30" stroke="#dc1f52" stroke-width="0.8"/>
<line x1="196.38" y1="267.70" x2="198.98" y2="267.70" stroke="#dc1f52" stroke-width="0.8"/>
<line x1="209.90" y1="257.30" x2="209.90" y2="267.70" stroke="#dc1f52" stroke-width="0.8"/>
<line x1="208.60" y1="257.30" x2="211.20" y2="257.30" stroke="#dc1f52" stroke-width="0.8"/>
<line x1="208.60" y1="267.70" x2="211.20" y2="267.70" stroke="#dc1f52" stroke-width="0.8"/>
<line x1="222.12" y1="257.30" x2="222.12" y2="267.70" stroke="#dc1f52" stroke-width="0.8"/>
<line x1="220.82" y1="257.30" x2="223.42" y2="257.30" stroke="#dc1f52" stroke-width="0.8"/>
<line x1="220.82" y1="267.70" x2="223.42" y2="267.70" stroke="#dc1f52" stroke-width="0.8"/>
<line x1="234.34" y1="257.30" x2="234.34" y2="267.70" stroke="#dc1f52" stroke-width="0.8"/>
<line x1="233.04" y1="257.30" x2="235.64" y2="257.30" stroke="#dc1f52" stroke-width="0.8"/>
<line x1="233.04" y1="267.70" x2="235.64" y2="267.70" stroke="#dc1f52" stroke-width="0.8"/>
<line x1="246.56" y1="257.30" x2="246.56" y2="267.70" stroke="#dc1f52" stroke-width="0.8"/>
<line x1="245.26" y1="257.30" x2="247.86" y2="257.30" stroke="#dc1f52" stroke-width="0.8"/>
<line x1="245.26" y1="267.70" x2="247.86" y2="267.70" stroke="#dc1f52" stroke-width="0.8"/>
<polyline points="26.60,282.00 38.82,268.61 51.04,260.81 63.26,260.81 75.48,262.50 87.70,263.02 99.92,267.96 112.14,261.72 124.36,261.20 136.58,259.25 148.80,259.25 161.02,260.03 173.24,262.37 185.46,262.50 197.68,262.50 209.90,262.50 222.12,262.50 234.34,262.50 246.56,262.50" fill="none" stroke="#dc1f52" stroke-width="1.4" stroke-linejoin="miter"/>
<circle cx="26.60" cy="282.00" r="2.0" fill="#dc1f52"/>
<circle cx="38.82" cy="268.61" r="2.0" fill="#dc1f52"/>
<circle cx="51.04" cy="260.81" r="2.0" fill="#dc1f52"/>
<circle cx="63.26" cy="260.81" r="2.0" fill="#dc1f52"/>
<circle cx="75.48" cy="262.50" r="2.0" fill="#dc1f52"/>
<circle cx="87.70" cy="263.02" r="2.0" fill="#dc1f52"/>
<circle cx="99.92" cy="267.96" r="2.0" fill="#dc1f52"/>
<circle cx="112.14" cy="261.72" r="2.0" fill="#dc1f52"/>
<circle cx="124.36" cy="261.20" r="2.0" fill="#dc1f52"/>
<circle cx="136.58" cy="259.25" r="2.0" fill="#dc1f52"/>
<circle cx="148.80" cy="259.25" r="2.0" fill="#dc1f52"/>
<circle cx="161.02" cy="260.03" r="2.0" fill="#dc1f52"/>
<circle cx="173.24" cy="262.37" r="2.0" fill="#dc1f52"/>
<circle cx="185.46" cy="262.50" r="2.0" fill="#dc1f52"/>
<circle cx="197.68" cy="262.50" r="2.0" fill="#dc1f52"/>
<circle cx="209.90" cy="262.50" r="2.0" fill="#dc1f52"/>
<circle cx="222.12" cy="262.50" r="2.0" fill="#dc1f52"/>
<circle cx="234.34" cy="262.50" r="2.0" fill="#dc1f52"/>
<circle cx="246.56" cy="262.50" r="2.0" fill="#dc1f52"/>
<line x1="63.26" y1="264.45" x2="63.26" y2="272.25" stroke="#25ad62" stroke-width="0.8"/>
<line x1="61.96" y1="264.45" x2="64.56" y2="264.45" stroke="#25ad62" stroke-width="0.8"/>
<line x1="61.96" y1="272.25" x2="64.56" y2="272.25" stroke="#25ad62" stroke-width="0.8"/>
<line x1="75.48" y1="264.58" x2="75.48" y2="272.38" stroke="#25ad62" stroke-width="0.8"/>
<line x1="74.18" y1="264.58" x2="76.78" y2="264.58" stroke="#25ad62" stroke-width="0.8"/>
<line x1="74.18" y1="272.38" x2="76.78" y2="272.38" stroke="#25ad62" stroke-width="0.8"/>
<line x1="87.70" y1="265.10" x2="87.70" y2="272.90" stroke="#25ad62" stroke-width="0.8"/>
<line x1="86.40" y1="265.10" x2="89.00" y2="265.10" stroke="#25ad62" stroke-width="0.8"/>
<line x1="86.40" y1="272.90" x2="89.00" y2="272.90" stroke="#25ad62" stroke-width="0.8"/>
<line x1="99.92" y1="264.58" x2="99.92" y2="272.38" stroke="#25ad62" stroke-width="0.8"/>
<line x1="98.62" y1="264.58" x2="101.22" y2="264.58" stroke="#25ad62" stroke-width="0.8"/>
<line x1="98.62" y1="272.38" x2="101.22" y2="272.38" stroke="#25ad62" stroke-width="0.8"/>
<line x1="112.14" y1="254.70" x2="112.14" y2="267.70" stroke="#25ad62" stroke-width="0.8"/>
<line x1="110.84" y1="254.70" x2="113.44" y2="254.70" stroke="#25ad62" stroke-width="0.8"/>
<line x1="110.84" y1="267.70" x2="113.44" y2="267.70" stroke="#25ad62" stroke-width="0.8"/>
<line x1="124.36" y1="253.01" x2="124.36" y2="268.61" stroke="#25ad62" stroke-width="0.8"/>
<line x1="123.06" y1="253.01" x2="125.66" y2="253.01" stroke="#25ad62" stroke-width="0.8"/>
<line x1="123.06" y1="268.61" x2="125.66" y2="268.61" stroke="#25ad62" stroke-width="0.8"/>
<line x1="136.58" y1="252.10" x2="136.58" y2="258.60" stroke="#25ad62" stroke-width="0.8"/>
<line x1="135.28" y1="252.10" x2="137.88" y2="252.10" stroke="#25ad62" stroke-width="0.8"/>
<line x1="135.28" y1="258.60" x2="137.88" y2="258.60" stroke="#25ad62" stroke-width="0.8"/>
<line x1="148.80" y1="252.75" x2="148.80" y2="259.25" stroke="#25ad62" stroke-width="0.8"/>
<line x1="147.50" y1="252.75" x2="150.10" y2="252.75" stroke="#25ad62" stroke-width="0.8"/>
<line x1="147.50" y1="259.25" x2="150.10" y2="259.25" stroke="#25ad62" stroke-width="0.8"/>
<line x1="161.02" y1="253.27" x2="161.02" y2="259.77" stroke="#25ad62" stroke-width="0.8"/>
<line x1="159.72" y1="253.27" x2="162.32" y2="253.27" stroke="#25ad62" stroke-width="0.8"/>
<line x1="159.72" y1="259.77" x2="162.32" y2="259.77" stroke="#25ad62" stroke-width="0.8"/>
<line x1="173.24" y1="254.70" x2="173.24" y2="261.20" stroke="#25ad62" stroke-width="0.8"/>
<line x1="171.94" y1="254.70" x2="174.54" y2="254.70" stroke="#25ad62" stroke-width="0.8"/>
<line x1="171.94" y1="261.20" x2="174.54" y2="261.20" stroke="#25ad62" stroke-width="0.8"/>
<line x1="185.46" y1="254.31" x2="185.46" y2="260.81" stroke="#25ad62" stroke-width="0.8"/>
<line x1="184.16" y1="254.31" x2="186.76" y2="254.31" stroke="#25ad62" stroke-width="0.8"/>
<line x1="184.16" y1="260.81" x2="186.76" y2="260.81" stroke="#25ad62" stroke-width="0.8"/>
<line x1="197.68" y1="254.31" x2="197.68" y2="260.81" stroke="#25ad62" stroke-width="0.8"/>
<line x1="196.38" y1="254.31" x2="198.98" y2="254.31" stroke="#25ad62" stroke-width="0.8"/>
<line x1="196.38" y1="260.81" x2="198.98" y2="260.81" stroke="#25ad62" stroke-width="0.8"/>
<line x1="209.90" y1="254.31" x2="209.90" y2="260.81" stroke="#25ad62" stroke-width="0.8"/>
<line x1="208.60" y1="254.31" x2="211.20" y2="254.31" stroke="#25ad62" stroke-width="0.8"/>
<line x1="208.60" y1="260.81" x2="211.20" y2="260.81" stroke="#25ad62" stroke-width="0.8"/>
<line x1="222.12" y1="254.31" x2="222.12" y2="260.81" stroke="#25ad62" stroke-width="0.8"/>
<line x1="220.82" y1="254.31" x2="223.42" y2="254.31" stroke="#25ad62" stroke-width="0.8"/>
<line x1="220.82" y1="260.81" x2="223.42" y2="260.81" stroke="#25ad62" stroke-width="0.8"/>
<line x1="234.34" y1="254.31" x2="234.34" y2="260.81" stroke="#25ad62" stroke-width="0.8"/>
<line x1="233.04" y1="254.31" x2="235.64" y2="254.31" stroke="#25ad62" stroke-width="0.8"/>
<line x1="233.04" y1="260.81" x2="235.64" y2="260.81" stroke="#25ad62" stroke-width="0.8"/>
<line x1="246.56" y1="254.31" x2="246.56" y2="260.81" stroke="#25ad62" stroke-width="0.8"/>
<line x1="245.26" y1="254.31" x2="247.86" y2="254.31" stroke="#25ad62" stroke-width="0.8"/>
<line x1="245.26" y1="260.81" x2="247.86" y2="260.81" stroke="#25ad62" stroke-width="0.8"/>
<polyline points="26.60,282.00 38.82,282.00 51.04,282.00 63.26,268.35 75.48,268.48 87.70,269.00 99.92,268.48 112.14,261.20 124.36,260.81 136.58,255.35 148.80,256.00 161.02,256.52 173.24,257.95 185.46,257.56 197.68,257.56 209.90,257.56 222.12,257.56 234.34,257.56 246.56,257.56" fill="none" stroke="#25ad62" stroke-width="1.4" stroke-linejoin="miter"/>
<circle cx="26.60" cy="282.00" r="2.0" fill="#25ad62"/>
<circle cx="38.82" cy="282.00" r="2.0" fill="#25ad62"/>
<circle cx="51.04" cy="282.00" r="2.0" fill="#25ad62"/>
<circle cx="63.26" cy="268.35" r="2.0" fill="#25ad62"/>
<circle cx="75.48" cy="268.48" r="2.0" fill="#25ad62"/>
<circle cx="87.70" cy="269.00" r="2.0" fill="#25ad62"/>
<circle cx="99.92" cy="268.48" r="2.0" fill="#25ad62"/>
<circle cx="112.14" cy="261.20" r="2.0" fill="#25ad62"/>
<circle cx="124.36" cy="260.81" r="2.0" fill="#25ad62"/>
<circle cx="136.58" cy="255.35" r="2.0" fill="#25ad62"/>
<circle cx="148.80" cy="256.00" r="2.0" fill="#25ad62"/>
<circle cx="161.02" cy="256.52" r="2.0" fill="#25ad62"/>
<circle cx="173.24" cy="257.95" r="2.0" fill="#25ad62"/>
<circle cx="185.46" cy="257.56" r="2.0" fill="#25ad62"/>
<circle cx="197.68" cy="257.56" r="2.0" fill="#25ad62"/>
<circle cx="209.90" cy="257.56" r="2.0" fill="#25ad62"/>
<circle cx="222.12" cy="257.56" r="2.0" fill="#25ad62"/>
<circle cx="234.34" cy="257.56" r="2.0" fill="#25ad62"/>
<circle cx="246.56" cy="257.56" r="2.0" fill="#25ad62"/>
<line x1="254.70" y1="237.40" x2="254.70" y2="257.30" stroke="#2a2a2a" stroke-width="1.2"/>
<line x1="268.70" y1="237.70" x2="268.70" y2="263.50" stroke="#2a2a2a" stroke-width="1.2"/>
<text x="258.30" y="247.70" font-size="8" text-anchor="middle" fill="#1e1e1e" stroke="#1e1e1e" stroke-width="0.08" transform="rotate(90 258.30 247.70)">N.S.</text>
<text x="272.10" y="250.80" font-size="8" text-anchor="middle" fill="#1e1e1e" stroke="#1e1e1e" stroke-width="0.08" transform="rotate(90 272.10 250.80)">N.S.</text>
<line x1="39.70" y1="305.50" x2="53.50" y2="305.50" stroke="#7a4a88" stroke-width="1.3"/>
<circle cx="46.60" cy="305.5" r="1.7" fill="#7a4a88"/>
<text x="57.20" y="308.20" font-size="8" text-anchor="start" fill="#1e1e1e" stroke="#1e1e1e" stroke-width="0.08" textLength="10.80" lengthAdjust="spacingAndGlyphs">BM</text>
<line x1="73.80" y1="305.50" x2="88.80" y2="305.50" stroke="#1f6696" stroke-width="1.3"/>
<circle cx="81.30" cy="305.5" r="1.7" fill="#1f6696"/>
<text x="92.80" y="308.20" font-size="8" text-anchor="start" fill="#1e1e1e" stroke="#1e1e1e" stroke-width="0.08" textLength="19.80" lengthAdjust="spacingAndGlyphs">BM+T</text>
<line x1="117.70" y1="305.50" x2="132.60" y2="305.50" stroke="#dc1f52" stroke-width="1.3"/>
<circle cx="125.15" cy="305.5" r="1.7" fill="#dc1f52"/>
<text x="135.80" y="308.20" font-size="8" text-anchor="start" fill="#1e1e1e" stroke="#1e1e1e" stroke-width="0.08" textLength="38.20" lengthAdjust="spacingAndGlyphs">Cobimetinib</text>
<line x1="178.80" y1="305.50" x2="193.50" y2="305.50" stroke="#25ad62" stroke-width="1.3"/>
<circle cx="186.15" cy="305.5" r="1.7" fill="#25ad62"/>
<text x="197.20" y="308.20" font-size="8" text-anchor="start" fill="#1e1e1e" stroke="#1e1e1e" stroke-width="0.08" textLength="32.30" lengthAdjust="spacingAndGlyphs">Trametinib</text>
<text x="309.60" y="171.50" font-size="10" font-weight="bold" fill="#0a0a0a" stroke="#0a0a0a" stroke-width="0.25">E</text>
<line x1="338.20" y1="175.80" x2="338.20" y2="295.90" stroke="#262626" stroke-width="1.2"/>
<line x1="337.70" y1="295.40" x2="484.60" y2="295.40" stroke="#262626" stroke-width="1.2"/>
<line x1="335.50" y1="290.20" x2="338.20" y2="290.20" stroke="#262626" stroke-width="1.2"/>
<text x="332.70" y="292.60" font-size="8" text-anchor="end" fill="#1e1e1e" stroke="#1e1e1e" stroke-width="0.08" textLength="10.80" lengthAdjust="spacingAndGlyphs">0.0</text>
<line x1="335.50" y1="268.00" x2="338.20" y2="268.00" stroke="#262626" stroke-width="1.2"/>
<text x="332.70" y="270.40" font-size="8" text-anchor="end" fill="#1e1e1e" stroke="#1e1e1e" stroke-width="0.08" textLength="10.80" lengthAdjust="spacingAndGlyphs">0.2</text>
<line x1="335.50" y1="245.80" x2="338.20" y2="245.80" stroke="#262626" stroke-width="1.2"/>
<text x="332.70" y="248.20" font-size="8" text-anchor="end" fill="#1e1e1e" stroke="#1e1e1e" stroke-width="0.08" textLength="10.80" lengthAdjust="spacingAndGlyphs">0.4</text>
<line x1="335.50" y1="223.60" x2="338.20" y2="223.60" stroke="#262626" stroke-width="1.2"/>
<text x="332.70" y="226.00" font-size="8" text-anchor="end" fill="#1e1e1e" stroke="#1e1e1e" stroke-width="0.08" textLength="10.80" lengthAdjust="spacingAndGlyphs">0.6</text>
<line x1="335.50" y1="201.40" x2="338.20" y2="201.40" stroke="#262626" stroke-width="1.2"/>
<text x="332.70" y="203.80" font-size="8" text-anchor="end" fill="#1e1e1e" stroke="#1e1e1e" stroke-width="0.08" textLength="10.80" lengthAdjust="spacingAndGlyphs">0.8</text>
<line x1="335.50" y1="179.20" x2="338.20" y2="179.20" stroke="#262626" stroke-width="1.2"/>
<text x="332.70" y="181.60" font-size="8" text-anchor="end" fill="#1e1e1e" stroke="#1e1e1e" stroke-width="0.08" textLength="10.80" lengthAdjust="spacingAndGlyphs">1.0</text>
<line x1="338.30" y1="295.40" x2="338.30" y2="297.90" stroke="#262626" stroke-width="1.2"/>
<text x="338.30" y="306.60" font-size="8" text-anchor="middle" fill="#1e1e1e" stroke="#1e1e1e" stroke-width="0.08">0</text>
<line x1="371.85" y1="295.40" x2="371.85" y2="297.90" stroke="#262626" stroke-width="1.2"/>
<text x="371.85" y="306.60" font-size="8" text-anchor="middle" fill="#1e1e1e" stroke="#1e1e1e" stroke-width="0.08">10</text>
<line x1="405.40" y1="295.40" x2="405.40" y2="297.90" stroke="#262626" stroke-width="1.2"/>
<text x="405.40" y="306.60" font-size="8" text-anchor="middle" fill="#1e1e1e" stroke="#1e1e1e" stroke-width="0.08">20</text>
<line x1="438.95" y1="295.40" x2="438.95" y2="297.90" stroke="#262626" stroke-width="1.2"/>
<text x="438.95" y="306.60" font-size="8" text-anchor="middle" fill="#1e1e1e" stroke="#1e1e1e" stroke-width="0.08">30</text>
<line x1="472.50" y1="295.40" x2="472.50" y2="297.90" stroke="#262626" stroke-width="1.2"/>
<text x="472.50" y="306.60" font-size="8" text-anchor="middle" fill="#1e1e1e" stroke="#1e1e1e" stroke-width="0.08">40</text>
<text x="411.80" y="318.60" font-size="9" text-anchor="middle" fill="#1e1e1e" stroke="#1e1e1e" stroke-width="0.2" textLength="13.60" lengthAdjust="spacingAndGlyphs">Days</text>
<text x="315.00" y="235.10" font-size="9" text-anchor="middle" fill="#1e1e1e" stroke="#1e1e1e" stroke-width="0.2" textLength="30.40" lengthAdjust="spacingAndGlyphs" transform="rotate(-90 315.00 235.10)">% Survival</text>
<polyline points="338.30,179.20 479.21,179.20" fill="none" stroke="#7a4a88" stroke-width="1.5" stroke-linejoin="miter"/>
<polyline points="338.30,179.20 395.34,179.20 395.34,190.30 402.05,190.30 402.05,201.40 408.75,201.40 408.75,223.60 418.82,223.60 418.82,229.48 422.18,229.48 422.18,238.03 442.31,238.03 442.31,255.79 479.21,255.79" fill="none" stroke="#f4a624" stroke-width="1.5" stroke-linejoin="miter"/>
<polyline points="338.30,179.20 418.82,179.20 418.82,189.75 425.53,189.75 425.53,205.06 449.01,205.06 449.01,213.17 455.73,213.17 455.73,221.38 479.21,221.38" fill="none" stroke="#dc1f52" stroke-width="1.5" stroke-linejoin="miter"/>
<polyline points="338.30,179.20 355.07,179.20 355.07,184.75 361.79,184.75 361.79,190.30 378.56,190.30 378.56,195.85 395.34,195.85 395.34,218.05 398.69,218.05 398.69,229.15 408.75,229.15 408.75,234.70 432.24,234.70 432.24,258.56 435.60,258.56 435.60,266.56 442.31,266.56 442.31,275.21 455.73,275.21 455.73,282.32 479.21,282.32" fill="none" stroke="#25ad62" stroke-width="1.5" stroke-linejoin="miter"/>
<polyline points="338.30,179.20 395.34,179.20 395.34,190.30 402.05,190.30 402.05,212.50 405.40,212.50 405.40,234.70 408.75,234.70 408.75,245.80 412.11,245.80 412.11,256.90 432.24,256.90 432.24,268.00 449.01,268.00 449.01,279.10 479.21,279.10" fill="none" stroke="#1f6696" stroke-width="1.5" stroke-linejoin="miter"/>
<text x="477.00" y="187.60" font-size="7.5" text-anchor="end" fill="#1e1e1e" stroke="#1e1e1e" stroke-width="0.08" textLength="11.50" lengthAdjust="spacingAndGlyphs">BM</text>
<text x="477.50" y="216.30" font-size="7.5" text-anchor="end" fill="#1e1e1e" stroke="#1e1e1e" stroke-width="0.08" textLength="15.20" lengthAdjust="spacingAndGlyphs">Cobi</text>
<text x="478.60" y="251.80" font-size="7.5" text-anchor="end" fill="#1e1e1e" stroke="#1e1e1e" stroke-width="0.08" textLength="22.60" lengthAdjust="spacingAndGlyphs">BM+S</text>
<text x="477.50" y="275.40" font-size="7.5" text-anchor="end" fill="#1e1e1e" stroke="#1e1e1e" stroke-width="0.08" textLength="11.00" lengthAdjust="spacingAndGlyphs">Tac</text>
<text x="477.50" y="292.90" font-size="7.5" text-anchor="end" fill="#1e1e1e" stroke="#1e1e1e" stroke-width="0.08" textLength="10.00" lengthAdjust="spacingAndGlyphs">Tra</text>
<line x1="485.50" y1="221.10" x2="485.50" y2="254.00" stroke="#444" stroke-width="1"/>
<line x1="494.40" y1="221.00" x2="494.40" y2="282.00" stroke="#444" stroke-width="1"/>
<circle cx="490.50" cy="237.50" r="1.1" fill="#1a1a1a"/>
<circle cx="500.10" cy="252.70" r="1.1" fill="#1a1a1a"/>
<circle cx="504.00" cy="252.70" r="1.1" fill="#1a1a1a"/>
<text x="1.90" y="340.40" font-size="10" font-weight="bold" fill="#0a0a0a" stroke="#0a0a0a" stroke-width="0.25">F</text>
<text x="21.30" y="353.20" font-size="8.9" text-anchor="start" fill="#1e1e1e" stroke="#1e1e1e" stroke-width="0.12" textLength="48.90" lengthAdjust="spacingAndGlyphs">Bronchiolitis</text>
<text x="101.30" y="340.70" font-size="10" font-weight="bold" fill="#0a0a0a" stroke="#0a0a0a" stroke-width="0.25">G</text>
<text x="121.90" y="341.20" font-size="8.4" text-anchor="start" fill="#1e1e1e" stroke="#1e1e1e" stroke-width="0.12" textLength="47.10" lengthAdjust="spacingAndGlyphs">Perivascular</text>
<text x="120.60" y="352.60" font-size="8.4" text-anchor="start" fill="#1e1e1e" stroke="#1e1e1e" stroke-width="0.12" textLength="49.80" lengthAdjust="spacingAndGlyphs">inflammation</text>
<text x="201.50" y="340.70" font-size="10" font-weight="bold" fill="#0a0a0a" stroke="#0a0a0a" stroke-width="0.25">H</text>
<text x="221.20" y="341.20" font-size="8.4" text-anchor="start" fill="#1e1e1e" stroke="#1e1e1e" stroke-width="0.12" textLength="49.60" lengthAdjust="spacingAndGlyphs">Macrophage</text>
<text x="221.70" y="351.60" font-size="8.4" text-anchor="start" fill="#1e1e1e" stroke="#1e1e1e" stroke-width="0.12" textLength="48.10" lengthAdjust="spacingAndGlyphs">aggregation</text>
<clipPath id="c5"><rect x="13" y="357.3" width="65.6" height="50.3"/></clipPath>
<g clip-path="url(#c5)">
<rect x="13" y="357.3" width="65.6" height="50.3" fill="#e8b8d4" filter="url(#f5)"/>
<rect x="13" y="357.3" width="65.6" height="50.3" fill="#fff" filter="url(#v5)" opacity="0.45"/>
<path d="M26.00,368.00 C28.33,364.33 30.50,364.00 33.00,364.00 C35.50,364.00 40.17,365.33 41.00,368.00 C41.83,370.67 39.67,376.33 38.00,380.00 C36.33,383.67 33.50,387.67 31.00,390.00 C28.50,392.33 25.00,394.67 23.00,394.00 C21.00,393.33 18.50,390.33 19.00,386.00 C19.50,381.67 23.67,371.67 26.00,368.00Z" fill="#e58cbf" stroke="none" stroke-width="0" stroke-linejoin="round" opacity="0.55" filter="url(#bl3)"/>
<path d="M56.00,370.00 C58.00,366.33 63.50,364.33 66.00,366.00 C68.50,367.67 70.83,375.00 71.00,380.00 C71.17,385.00 69.17,392.83 67.00,396.00 C64.83,399.17 60.17,400.33 58.00,399.00 C55.83,397.67 54.33,392.83 54.00,388.00 C53.67,383.17 54.00,373.67 56.00,370.00Z" fill="#e58cbf" stroke="none" stroke-width="0" stroke-linejoin="round" opacity="0.5" filter="url(#bl3)"/>
<path d="M36.00,372.00 C38.00,370.00 41.17,367.50 44.00,368.00 C46.83,368.50 51.00,372.00 53.00,375.00 C55.00,378.00 56.50,382.67 56.00,386.00 C55.50,389.33 52.67,393.33 50.00,395.00 C47.33,396.67 42.83,396.83 40.00,396.00 C37.17,395.17 34.33,392.67 33.00,390.00 C31.67,387.33 31.50,383.00 32.00,380.00 C32.50,377.00 34.00,374.00 36.00,372.00Z" fill="#e27ab6" stroke="none" stroke-width="0" stroke-linejoin="round" opacity="0.8" filter="url(#bl2)"/>
<path d="M43.00,372.60 C44.38,372.60 50.00,377.31 51.00,378.50 C52.00,379.69 53.15,383.23 53.00,384.50 C52.85,385.77 50.82,390.59 49.50,391.20 C48.18,391.81 41.17,391.31 39.80,390.60 C38.43,389.89 36.06,385.31 35.80,384.10 C35.54,382.89 36.48,379.65 37.20,378.50 C37.92,377.35 41.62,372.60 43.00,372.60Z" fill="#cfe2dc" stroke="#eccbdc" stroke-width="2.4" stroke-linejoin="round" opacity="1" filter="url(#bl1)"/>
<path d="M14.00,375.00 C14.50,373.33 17.08,372.33 18.00,373.00 C18.92,373.67 20.00,377.33 19.50,379.00 C19.00,380.67 15.92,383.67 15.00,383.00 C14.08,382.33 13.50,376.67 14.00,375.00Z" fill="#dde3e6" stroke="none" stroke-width="0" stroke-linejoin="round" opacity="1" filter="url(#bl1)"/>
</g>
<clipPath id="c6"><rect x="113" y="357.3" width="65.6" height="50.3"/></clipPath>
<g clip-path="url(#c6)">
<rect x="113" y="357.3" width="65.6" height="50.3" fill="#d8c4d6" filter="url(#f6)"/>
<rect x="113" y="357.3" width="65.6" height="50.3" fill="#fff" filter="url(#v6)" opacity="0.4"/>
<path d="M112,356 L180,356 L180,372 L165,371 L152,372 L140,368 L130,365.5 L112,364.5 Z" fill="#d4d5db" stroke="none" stroke-width="0" stroke-linejoin="round" opacity="1" filter="url(#bl1)"/>
<path d="M112,364.8 L130,365.8 L140,368.4 L152,375 L160,379" fill="none" stroke="#d9a2c8" stroke-width="1.4" stroke-linejoin="round" opacity="0.9" filter="url(#bl1)"/>
<path d="M152,372.5 L165,371.6 L180,372.6" fill="none" stroke="#d6b4cc" stroke-width="1.2" stroke-linejoin="round" opacity="0.7" filter="url(#bl1)"/>
<path d="M161.02,387.50 C161.00,389.57 159.72,391.94 158.06,393.66 C156.40,395.38 153.74,397.19 151.08,397.83 C148.41,398.48 144.74,398.23 142.06,397.53 C139.38,396.83 136.73,395.30 135.00,393.63 C133.27,391.96 131.88,389.65 131.68,387.50 C131.47,385.35 132.09,382.52 133.76,380.71 C135.43,378.90 138.78,377.33 141.70,376.66 C144.62,375.99 148.53,375.94 151.28,376.71 C154.04,377.47 156.61,379.45 158.23,381.25 C159.85,383.05 161.05,385.43 161.02,387.50Z" fill="#e088bc" stroke="none" stroke-width="0" stroke-linejoin="round" opacity="0.6" filter="url(#bl3)"/>
<path d="M150.00,378.00 C150.50,376.83 156.17,377.50 158.00,379.00 C159.83,380.50 161.00,384.33 161.00,387.00 C161.00,389.67 159.83,393.17 158.00,395.00 C156.17,396.83 152.33,397.67 150.00,398.00 C147.67,398.33 143.67,398.00 144.00,397.00 C144.33,396.00 150.17,393.83 152.00,392.00 C153.83,390.17 155.33,388.33 155.00,386.00 C154.67,383.67 149.50,379.17 150.00,378.00Z" fill="#e46cb0" stroke="none" stroke-width="0" stroke-linejoin="round" opacity="0.7" filter="url(#bl2)"/>
<path d="M153.88,387.10 C153.89,388.19 153.29,389.50 152.31,390.40 C151.33,391.29 149.61,392.10 147.99,392.45 C146.37,392.81 144.20,392.86 142.58,392.52 C140.96,392.17 139.30,391.30 138.29,390.39 C137.28,389.49 136.45,388.17 136.51,387.10 C136.58,386.03 137.65,384.86 138.68,383.99 C139.71,383.12 141.12,382.27 142.68,381.88 C144.24,381.50 146.42,381.36 148.02,381.68 C149.62,382.01 151.28,382.93 152.26,383.83 C153.24,384.73 153.88,386.01 153.88,387.10Z" fill="none" stroke="#e27ab6" stroke-width="3" stroke-linejoin="round" opacity="0.8" filter="url(#bl1)"/>
<path d="M152.37,387.10 C152.38,387.90 151.88,388.85 151.07,389.50 C150.26,390.15 148.85,390.74 147.51,390.99 C146.18,391.25 144.39,391.29 143.06,391.04 C141.73,390.79 140.36,390.15 139.53,389.50 C138.70,388.84 138.01,387.88 138.06,387.10 C138.12,386.32 139.00,385.47 139.85,384.84 C140.70,384.21 141.86,383.59 143.14,383.31 C144.42,383.03 146.23,382.93 147.54,383.16 C148.85,383.40 150.23,384.06 151.03,384.72 C151.84,385.38 152.36,386.30 152.37,387.10Z" fill="#cfe3dc" stroke="#ecc6da" stroke-width="1.4" stroke-linejoin="round" opacity="1" filter="url(#bl1)"/>
</g>
<clipPath id="c7"><rect x="213" y="357.3" width="65.6" height="50.3"/></clipPath>
<g clip-path="url(#c7)">
<rect x="213" y="357.3" width="65.6" height="50.3" fill="#e6bdd6" filter="url(#f7)"/>
<rect x="213" y="357.3" width="65.6" height="50.3" fill="#fff" filter="url(#v7)" opacity="0.45"/>
<path d="M243.00,376.00 C245.33,373.67 250.83,373.83 254.00,374.00 C257.17,374.17 260.67,374.50 262.00,377.00 C263.33,379.50 263.17,386.00 262.00,389.00 C260.83,392.00 257.83,394.00 255.00,395.00 C252.17,396.00 247.50,396.17 245.00,395.00 C242.50,393.83 240.33,391.17 240.00,388.00 C239.67,384.83 240.67,378.33 243.00,376.00Z" fill="#e48cc0" stroke="none" stroke-width="0" stroke-linejoin="round" opacity="0.5" filter="url(#bl3)"/>
<path d="M256.00,374.00 C257.17,372.00 260.33,371.33 262.00,372.00 C263.67,372.67 265.50,375.33 266.00,378.00 C266.50,380.67 266.17,385.67 265.00,388.00 C263.83,390.33 260.67,392.67 259.00,392.00 C257.33,391.33 255.50,387.00 255.00,384.00 C254.50,381.00 254.83,376.00 256.00,374.00Z" fill="#e070b4" stroke="none" stroke-width="0" stroke-linejoin="round" opacity="0.75" filter="url(#bl2)"/>
<path d="M242.00,386.00 C243.33,385.33 246.67,386.67 248.00,388.00 C249.33,389.33 250.67,392.67 250.00,394.00 C249.33,395.33 245.67,396.33 244.00,396.00 C242.33,395.67 240.33,393.67 240.00,392.00 C239.67,390.33 240.67,386.67 242.00,386.00Z" fill="#e070b4" stroke="none" stroke-width="0" stroke-linejoin="round" opacity="0.7" filter="url(#bl2)"/>
<path d="M217.00,372.00 C217.67,369.83 223.83,369.00 226.00,370.00 C228.17,371.00 230.67,375.83 230.00,378.00 C229.33,380.17 224.17,384.00 222.00,383.00 C219.83,382.00 216.33,374.17 217.00,372.00Z" fill="#e58cbf" stroke="none" stroke-width="0" stroke-linejoin="round" opacity="0.6" filter="url(#bl3)"/>
<path d="M246.50,381.50 C247.40,380.57 253.77,380.03 254.50,380.50 C255.23,380.97 254.30,385.12 253.80,386.20 C253.30,387.28 250.33,390.94 249.50,391.30 C248.67,391.66 245.80,390.78 245.50,389.80 C245.20,388.82 245.60,382.43 246.50,381.50Z" fill="#d0e0dc" stroke="#eccbdc" stroke-width="2.0" stroke-linejoin="round" opacity="1" filter="url(#bl1)"/>
</g>
<text x="323.20" y="340.40" font-size="10" font-weight="bold" fill="#0a0a0a" stroke="#0a0a0a" stroke-width="0.25">I</text>
<text x="332.70" y="350.20" font-size="7.4" text-anchor="start" fill="#1e1e1e" stroke="#1e1e1e" stroke-width="0.08" textLength="11.40" lengthAdjust="spacingAndGlyphs">(%)</text>
<line x1="352.30" y1="354.60" x2="352.30" y2="478.60" stroke="#262626" stroke-width="1.2"/>
<line x1="351.80" y1="478.20" x2="516.50" y2="478.20" stroke="#262626" stroke-width="1.2"/>
<line x1="349.60" y1="478.20" x2="352.30" y2="478.20" stroke="#262626" stroke-width="1.2"/>
<text x="346.50" y="480.60" font-size="8" text-anchor="end" fill="#1e1e1e" stroke="#1e1e1e" stroke-width="0.08">0</text>
<line x1="349.60" y1="455.10" x2="352.30" y2="455.10" stroke="#262626" stroke-width="1.2"/>
<text x="346.50" y="457.50" font-size="8" text-anchor="end" fill="#1e1e1e" stroke="#1e1e1e" stroke-width="0.08">20</text>
<line x1="349.60" y1="432.00" x2="352.30" y2="432.00" stroke="#262626" stroke-width="1.2"/>
<text x="346.50" y="434.40" font-size="8" text-anchor="end" fill="#1e1e1e" stroke="#1e1e1e" stroke-width="0.08">40</text>
<line x1="349.60" y1="408.90" x2="352.30" y2="408.90" stroke="#262626" stroke-width="1.2"/>
<text x="346.50" y="411.30" font-size="8" text-anchor="end" fill="#1e1e1e" stroke="#1e1e1e" stroke-width="0.08">60</text>
<line x1="349.60" y1="385.80" x2="352.30" y2="385.80" stroke="#262626" stroke-width="1.2"/>
<text x="346.50" y="388.20" font-size="8" text-anchor="end" fill="#1e1e1e" stroke="#1e1e1e" stroke-width="0.08">80</text>
<line x1="349.60" y1="362.70" x2="352.30" y2="362.70" stroke="#262626" stroke-width="1.2"/>
<text x="346.50" y="365.10" font-size="8" text-anchor="end" fill="#1e1e1e" stroke="#1e1e1e" stroke-width="0.08">100</text>
<text x="332.00" y="419.40" font-size="8.8" text-anchor="middle" fill="#1e1e1e" stroke="#1e1e1e" stroke-width="0.2" textLength="62.00" lengthAdjust="spacingAndGlyphs" transform="rotate(-90 332.00 419.40)">Proportion of findings</text>
<rect x="373.00" y="362.70" width="26.70" height="115.50" fill="#f70034"/>
<line x1="386.35" y1="478.20" x2="386.35" y2="480.70" stroke="#262626" stroke-width="1.2"/>
<text x="386.35" y="491.00" font-size="8" text-anchor="middle" fill="#1e1e1e" stroke="#1e1e1e" stroke-width="0.08" textLength="41.30" lengthAdjust="spacingAndGlyphs">Bronchiolitis</text>
<rect x="427.20" y="374.25" width="27.50" height="103.95" fill="#0b639b"/>
<line x1="440.95" y1="478.20" x2="440.95" y2="480.70" stroke="#262626" stroke-width="1.2"/>
<text x="440.95" y="491.00" font-size="8" text-anchor="middle" fill="#1e1e1e" stroke="#1e1e1e" stroke-width="0.08" textLength="7.00" lengthAdjust="spacingAndGlyphs">PI</text>
<rect x="480.80" y="432.00" width="27.70" height="46.20" fill="#0cc25a"/>
<line x1="494.65" y1="478.20" x2="494.65" y2="480.70" stroke="#262626" stroke-width="1.2"/>
<text x="494.65" y="491.00" font-size="8" text-anchor="middle" fill="#1e1e1e" stroke="#1e1e1e" stroke-width="0.08" textLength="12.00" lengthAdjust="spacingAndGlyphs">MA</text>
<text x="2.60" y="430.60" font-size="10" font-weight="bold" fill="#0a0a0a" stroke="#0a0a0a" stroke-width="0.25">J</text>
<text x="38.00" y="431.40" font-size="8.5" text-anchor="start" fill="#1e1e1e" stroke="#1e1e1e" stroke-width="0.12" textLength="14.50" lengthAdjust="spacingAndGlyphs">BM</text>
<text x="90.90" y="431.40" font-size="8.5" text-anchor="start" fill="#1e1e1e" stroke="#1e1e1e" stroke-width="0.12" textLength="31.70" lengthAdjust="spacingAndGlyphs">BM + S</text>
<text x="140.00" y="431.40" font-size="8.5" text-anchor="start" fill="#1e1e1e" stroke="#1e1e1e" stroke-width="0.12" textLength="55.40" lengthAdjust="spacingAndGlyphs">BM + S + Tra</text>
<text x="211.50" y="431.40" font-size="8.5" text-anchor="start" fill="#1e1e1e" stroke="#1e1e1e" stroke-width="0.12" textLength="62.60" lengthAdjust="spacingAndGlyphs">BM + S + Cobi</text>
<text x="8.30" y="461.90" font-size="9.6" text-anchor="middle" fill="#1e1e1e" stroke="#1e1e1e" stroke-width="0.12" textLength="18.50" lengthAdjust="spacingAndGlyphs" transform="rotate(-90 8.30 461.90)">H&amp;E</text>
<clipPath id="c8"><rect x="13" y="436" width="264.6" height="50.6"/></clipPath>
<g clip-path="url(#c8)">
<rect x="13" y="436" width="264.6" height="50.6" fill="#e2ccda" filter="url(#f8)"/>
<rect x="13" y="436" width="264.6" height="50.6" fill="#fff" filter="url(#v8)" opacity="0.45"/>
<path d="M63.60,462.90 C63.55,465.50 62.33,468.45 60.70,470.61 C59.08,472.78 56.46,475.11 53.83,475.89 C51.21,476.68 47.69,476.14 44.97,475.30 C42.26,474.46 39.21,472.92 37.54,470.86 C35.87,468.79 34.88,465.50 34.96,462.90 C35.03,460.30 36.34,457.39 37.98,455.25 C39.63,453.10 42.21,450.84 44.82,450.05 C47.42,449.27 50.92,449.71 53.61,450.54 C56.31,451.36 59.31,452.95 60.97,455.01 C62.63,457.07 63.64,460.30 63.60,462.90Z" fill="none" stroke="#e6a6cc" stroke-width="4" stroke-linejoin="round" opacity="0.7" filter="url(#bl3)"/>
<path d="M60.75,463.10 C60.81,465.25 60.45,468.02 59.16,469.68 C57.88,471.34 55.21,472.42 53.02,473.06 C50.83,473.71 48.08,474.18 46.02,473.54 C43.96,472.90 41.95,470.98 40.68,469.24 C39.42,467.50 38.54,465.22 38.43,463.10 C38.32,460.98 38.72,458.17 40.01,456.50 C41.30,454.83 43.97,453.70 46.16,453.07 C48.35,452.44 51.06,452.09 53.16,452.71 C55.27,453.33 57.53,455.04 58.79,456.77 C60.06,458.50 60.69,460.95 60.75,463.10Z" fill="#dadfdf" stroke="#e070b0" stroke-width="1.8" stroke-linejoin="round" opacity="1" filter="url(#bl1)"/>
<path d="M80.00,455.00 C81.00,450.50 87.00,448.83 92.00,447.00 C97.00,445.17 104.50,444.50 110.00,444.00 C115.50,443.50 120.00,443.67 125.00,444.00 C130.00,444.33 136.50,444.67 140.00,446.00 C143.50,447.33 145.00,447.67 146.00,452.00 C147.00,456.33 147.33,467.33 146.00,472.00 C144.67,476.67 142.33,478.50 138.00,480.00 C133.67,481.50 126.33,481.00 120.00,481.00 C113.67,481.00 105.67,481.17 100.00,480.00 C94.33,478.83 89.33,478.17 86.00,474.00 C82.67,469.83 79.00,459.50 80.00,455.00Z" fill="#e8a8cc" stroke="none" stroke-width="0" stroke-linejoin="round" opacity="0.5" filter="url(#bl5)"/>
<path d="M130.48,461.60 C130.40,463.60 129.63,465.75 128.46,467.47 C127.28,469.18 125.45,470.94 123.44,471.88 C121.43,472.83 118.77,473.09 116.40,473.12 C114.03,473.15 111.30,472.99 109.22,472.08 C107.15,471.16 105.13,469.40 103.96,467.65 C102.80,465.91 102.12,463.57 102.23,461.60 C102.34,459.63 103.41,457.57 104.61,455.86 C105.80,454.15 107.42,452.35 109.39,451.36 C111.35,450.38 114.09,449.93 116.40,449.96 C118.71,450.00 121.17,450.66 123.26,451.59 C125.35,452.51 127.76,453.82 128.96,455.49 C130.17,457.16 130.56,459.60 130.48,461.60Z" fill="none" stroke="#e57ab8" stroke-width="5" stroke-linejoin="round" opacity="0.9" filter="url(#bl2)"/>
<path d="M128.28,461.60 C128.20,463.23 127.54,464.97 126.55,466.37 C125.56,467.76 124.04,469.22 122.35,469.98 C120.66,470.74 118.41,470.89 116.40,470.92 C114.39,470.95 112.07,470.90 110.32,470.17 C108.56,469.45 106.83,467.98 105.85,466.56 C104.87,465.13 104.31,463.20 104.42,461.60 C104.53,460.00 105.52,458.35 106.53,456.96 C107.54,455.57 108.84,454.07 110.49,453.27 C112.13,452.47 114.46,452.13 116.40,452.17 C118.34,452.20 120.37,452.76 122.15,453.49 C123.93,454.23 126.06,455.23 127.08,456.58 C128.10,457.93 128.37,459.97 128.28,461.60Z" fill="#dadfdf" stroke="#e066ad" stroke-width="1.4" stroke-linejoin="round" opacity="1" filter="url(#bl1)"/>
<path d="M97.78,459.50 C97.78,460.54 97.21,461.87 96.41,462.63 C95.62,463.39 94.13,464.09 93.00,464.09 C91.87,464.08 90.42,463.37 89.62,462.60 C88.82,461.84 88.20,460.54 88.20,459.50 C88.19,458.46 88.78,457.07 89.58,456.36 C90.38,455.65 91.86,455.23 93.00,455.24 C94.14,455.24 95.60,455.67 96.40,456.39 C97.19,457.10 97.77,458.46 97.78,459.50Z" fill="#e4d2dc" stroke="#e070ae" stroke-width="2" stroke-linejoin="round" opacity="1" filter="url(#bl1)"/>
<path d="M145.09,463.00 C145.08,464.25 144.57,465.85 143.80,466.73 C143.04,467.62 141.57,468.32 140.50,468.29 C139.43,468.25 138.09,467.43 137.36,466.55 C136.63,465.66 136.14,464.20 136.13,463.00 C136.11,461.80 136.56,460.22 137.29,459.37 C138.02,458.52 139.41,457.94 140.50,457.92 C141.59,457.89 143.09,458.36 143.85,459.21 C144.62,460.06 145.10,461.75 145.09,463.00Z" fill="#dadfdf" stroke="#e070ae" stroke-width="1.8" stroke-linejoin="round" opacity="1" filter="url(#bl1)"/>
<path d="M199.51,476.98 C198.11,479.24 195.83,481.46 193.07,482.42 C190.32,483.37 186.42,483.38 182.97,482.71 C179.53,482.03 175.37,480.51 172.41,478.37 C169.45,476.24 166.98,472.83 165.22,469.89 C163.47,466.95 162.09,463.60 161.89,460.73 C161.70,457.87 162.58,454.88 164.06,452.73 C165.53,450.58 168.01,448.81 170.74,447.82 C173.47,446.84 177.13,446.13 180.42,446.82 C183.71,447.52 187.43,449.86 190.47,451.99 C193.50,454.11 196.81,456.75 198.64,459.56 C200.48,462.37 201.33,465.96 201.48,468.86 C201.62,471.76 200.91,474.72 199.51,476.98Z" fill="#e8a0c8" stroke="none" stroke-width="0" stroke-linejoin="round" opacity="0.5" filter="url(#bl5)"/>
<path d="M194.91,473.70 C193.88,475.36 192.58,477.15 190.65,477.94 C188.72,478.73 185.86,478.79 183.33,478.43 C180.81,478.06 177.72,477.18 175.48,475.75 C173.24,474.32 171.28,471.90 169.89,469.83 C168.51,467.76 167.52,465.43 167.17,463.31 C166.82,461.18 166.87,458.75 167.80,457.08 C168.74,455.41 170.73,453.96 172.78,453.30 C174.83,452.64 177.61,452.74 180.11,453.13 C182.61,453.52 185.55,454.28 187.80,455.65 C190.05,457.02 192.12,459.27 193.63,461.33 C195.13,463.38 196.63,465.93 196.85,467.99 C197.06,470.05 195.94,472.04 194.91,473.70Z" fill="none" stroke="#e274b4" stroke-width="5" stroke-linejoin="round" opacity="0.9" filter="url(#bl2)"/>
<path d="M193.64,472.92 C192.83,474.14 190.72,474.65 189.02,475.16 C187.31,475.67 185.39,476.31 183.41,475.96 C181.43,475.62 179.11,474.25 177.12,473.06 C175.14,471.87 172.70,470.45 171.49,468.84 C170.28,467.23 170.13,465.16 169.86,463.41 C169.58,461.66 169.16,459.65 169.84,458.33 C170.53,457.01 172.29,456.04 173.97,455.51 C175.66,454.98 177.87,454.78 179.97,455.14 C182.07,455.49 184.70,456.39 186.59,457.62 C188.48,458.86 190.11,460.84 191.32,462.55 C192.54,464.25 193.47,466.12 193.86,467.85 C194.25,469.57 194.44,471.70 193.64,472.92Z" fill="#dadfdf" stroke="#e466ad" stroke-width="1.2" stroke-linejoin="round" opacity="1" filter="url(#bl1)"/>
<path d="M260.50,466.40 C260.52,468.70 259.67,471.47 258.30,473.33 C256.93,475.19 254.52,476.86 252.29,477.57 C250.06,478.28 247.13,478.30 244.90,477.59 C242.68,476.88 240.35,475.16 238.94,473.30 C237.54,471.43 236.47,468.69 236.49,466.40 C236.50,464.11 237.64,461.45 239.03,459.56 C240.43,457.68 242.67,455.76 244.86,455.09 C247.06,454.41 249.98,454.76 252.20,455.51 C254.42,456.25 256.81,457.73 258.19,459.55 C259.58,461.36 260.48,464.10 260.50,466.40Z" fill="none" stroke="#e8a6cc" stroke-width="3" stroke-linejoin="round" opacity="0.7" filter="url(#bl2)"/>
<path d="M259.71,466.40 C259.72,468.54 258.93,471.12 257.65,472.86 C256.37,474.59 254.13,476.15 252.04,476.81 C249.96,477.47 247.23,477.49 245.15,476.83 C243.07,476.17 240.90,474.57 239.59,472.83 C238.28,471.09 237.28,468.53 237.29,466.40 C237.31,464.27 238.37,461.79 239.67,460.03 C240.97,458.27 243.06,456.48 245.11,455.85 C247.16,455.22 249.89,455.55 251.96,456.25 C254.03,456.94 256.26,458.32 257.55,460.01 C258.84,461.70 259.69,464.26 259.71,466.40Z" fill="#dadfdf" stroke="#e46fb0" stroke-width="1.8" stroke-linejoin="round" opacity="1" filter="url(#bl1)"/>
<path d="M244.01,450.80 C244.03,451.41 243.69,452.24 243.19,452.69 C242.69,453.15 241.71,453.54 241.00,453.52 C240.29,453.50 239.44,453.05 238.92,452.60 C238.41,452.15 237.93,451.41 237.92,450.80 C237.91,450.19 238.32,449.36 238.84,448.92 C239.35,448.48 240.30,448.14 241.00,448.16 C241.70,448.18 242.54,448.59 243.04,449.03 C243.54,449.47 243.98,450.19 244.01,450.80Z" fill="#dadfdf" stroke="#e49ac4" stroke-width="1" stroke-linejoin="round" opacity="1" filter="url(#bl1)"/>
</g>
<text x="2.00" y="508.10" font-size="10" font-weight="bold" fill="#0a0a0a" stroke="#0a0a0a" stroke-width="0.25">K</text>
<text x="4.20" y="519.40" font-size="7.4" text-anchor="start" fill="#1e1e1e" stroke="#1e1e1e" stroke-width="0.08" textLength="11.20" lengthAdjust="spacingAndGlyphs">(%)</text>
<text x="48.00" y="520.00" font-size="8.5" text-anchor="start" fill="#1e1e1e" stroke="#1e1e1e" stroke-width="0.12" textLength="103.20" lengthAdjust="spacingAndGlyphs">Proportion of bronchiolitis</text>
<line x1="21.50" y1="524.20" x2="21.50" y2="668.80" stroke="#262626" stroke-width="1.2"/>
<line x1="21.00" y1="668.40" x2="178.50" y2="668.40" stroke="#262626" stroke-width="1.2"/>
<line x1="18.80" y1="668.00" x2="21.50" y2="668.00" stroke="#262626" stroke-width="1.2"/>
<text x="16.30" y="670.40" font-size="8" text-anchor="end" fill="#1e1e1e" stroke="#1e1e1e" stroke-width="0.08">0</text>
<line x1="18.80" y1="640.48" x2="21.50" y2="640.48" stroke="#262626" stroke-width="1.2"/>
<text x="16.30" y="642.88" font-size="8" text-anchor="end" fill="#1e1e1e" stroke="#1e1e1e" stroke-width="0.08">20</text>
<line x1="18.80" y1="612.96" x2="21.50" y2="612.96" stroke="#262626" stroke-width="1.2"/>
<text x="16.30" y="615.36" font-size="8" text-anchor="end" fill="#1e1e1e" stroke="#1e1e1e" stroke-width="0.08">40</text>
<line x1="18.80" y1="585.44" x2="21.50" y2="585.44" stroke="#262626" stroke-width="1.2"/>
<text x="16.30" y="587.84" font-size="8" text-anchor="end" fill="#1e1e1e" stroke="#1e1e1e" stroke-width="0.08">60</text>
<line x1="18.80" y1="557.92" x2="21.50" y2="557.92" stroke="#262626" stroke-width="1.2"/>
<text x="16.30" y="560.32" font-size="8" text-anchor="end" fill="#1e1e1e" stroke="#1e1e1e" stroke-width="0.08">80</text>
<line x1="18.80" y1="530.40" x2="21.50" y2="530.40" stroke="#262626" stroke-width="1.2"/>
<text x="16.30" y="532.80" font-size="8" text-anchor="end" fill="#1e1e1e" stroke="#1e1e1e" stroke-width="0.08">100</text>
<line x1="40.90" y1="668.40" x2="40.90" y2="670.90" stroke="#262626" stroke-width="1.2"/>
<text x="40.90" y="681.00" font-size="8" text-anchor="middle" fill="#1e1e1e" stroke="#1e1e1e" stroke-width="0.08" textLength="11.50" lengthAdjust="spacingAndGlyphs">BM</text>
<line x1="80.60" y1="668.40" x2="80.60" y2="670.90" stroke="#262626" stroke-width="1.2"/>
<text x="80.60" y="681.00" font-size="8" text-anchor="middle" fill="#1e1e1e" stroke="#1e1e1e" stroke-width="0.08" textLength="22.00" lengthAdjust="spacingAndGlyphs">BM+S</text>
<line x1="120.30" y1="668.40" x2="120.30" y2="670.90" stroke="#262626" stroke-width="1.2"/>
<text x="120.30" y="681.00" font-size="8" text-anchor="middle" fill="#1e1e1e" stroke="#1e1e1e" stroke-width="0.08" textLength="10.00" lengthAdjust="spacingAndGlyphs">Tra</text>
<line x1="160.00" y1="668.40" x2="160.00" y2="670.90" stroke="#262626" stroke-width="1.2"/>
<text x="160.00" y="681.00" font-size="8" text-anchor="middle" fill="#1e1e1e" stroke="#1e1e1e" stroke-width="0.08" textLength="16.00" lengthAdjust="spacingAndGlyphs">Cobi</text>
<rect x="72.30" y="544.16" width="16.60" height="124.24" fill="#ff9a00"/>
<line x1="80.10" y1="541.13" x2="80.10" y2="544.16" stroke="#333" stroke-width="0.9"/>
<line x1="78.30" y1="541.13" x2="81.90" y2="541.13" stroke="#333" stroke-width="0.9"/>
<rect x="111.80" y="564.11" width="16.70" height="104.29" fill="#0cc25a"/>
<line x1="119.65" y1="552.83" x2="119.65" y2="564.11" stroke="#333" stroke-width="0.9"/>
<line x1="117.85" y1="552.83" x2="121.45" y2="552.83" stroke="#333" stroke-width="0.9"/>
<rect x="151.40" y="644.88" width="16.60" height="23.52" fill="#f70034"/>
<line x1="159.20" y1="641.03" x2="159.20" y2="644.88" stroke="#333" stroke-width="0.9"/>
<line x1="157.40" y1="641.03" x2="161.00" y2="641.03" stroke="#333" stroke-width="0.9"/>
<line x1="80.40" y1="534.60" x2="158.30" y2="534.60" stroke="#222" stroke-width="1.2"/>
<circle cx="117.40" cy="529.50" r="1.1" fill="#1a1a1a"/>
<circle cx="121.30" cy="529.50" r="1.1" fill="#1a1a1a"/>
<text x="227.40" y="507.80" font-size="10" font-weight="bold" fill="#0a0a0a" stroke="#0a0a0a" stroke-width="0.25">L</text>
<line x1="248.20" y1="526.50" x2="248.20" y2="668.80" stroke="#262626" stroke-width="1.2"/>
<line x1="247.70" y1="668.40" x2="359.30" y2="668.40" stroke="#262626" stroke-width="1.2"/>
<line x1="245.50" y1="667.80" x2="248.20" y2="667.80" stroke="#262626" stroke-width="1.2"/>
<text x="243.00" y="670.20" font-size="8" text-anchor="end" fill="#1e1e1e" stroke="#1e1e1e" stroke-width="0.08">0</text>
<line x1="245.50" y1="633.60" x2="248.20" y2="633.60" stroke="#262626" stroke-width="1.2"/>
<text x="243.00" y="636.00" font-size="8" text-anchor="end" fill="#1e1e1e" stroke="#1e1e1e" stroke-width="0.08">1</text>
<line x1="245.50" y1="599.40" x2="248.20" y2="599.40" stroke="#262626" stroke-width="1.2"/>
<text x="243.00" y="601.80" font-size="8" text-anchor="end" fill="#1e1e1e" stroke="#1e1e1e" stroke-width="0.08">2</text>
<line x1="245.50" y1="565.20" x2="248.20" y2="565.20" stroke="#262626" stroke-width="1.2"/>
<text x="243.00" y="567.60" font-size="8" text-anchor="end" fill="#1e1e1e" stroke="#1e1e1e" stroke-width="0.08">3</text>
<line x1="245.50" y1="531.00" x2="248.20" y2="531.00" stroke="#262626" stroke-width="1.2"/>
<text x="243.00" y="533.40" font-size="8" text-anchor="end" fill="#1e1e1e" stroke="#1e1e1e" stroke-width="0.08">4</text>
<text x="232.00" y="597.30" font-size="8.6" text-anchor="middle" fill="#1e1e1e" stroke="#1e1e1e" stroke-width="0.2" textLength="73.50" lengthAdjust="spacingAndGlyphs" transform="rotate(-90 232.00 597.30)">Resistance (cmH<tspan font-size="5" dy="1.5">2</tspan><tspan dy="-1.5">0.s/mL)</tspan></text>
<rect x="258.50" y="625.39" width="16.60" height="43.01" fill="#7a2f86"/>
<line x1="266.30" y1="615.13" x2="266.30" y2="625.39" stroke="#333" stroke-width="0.9"/>
<line x1="264.50" y1="615.13" x2="268.10" y2="615.13" stroke="#333" stroke-width="0.9"/>
<line x1="266.80" y1="668.40" x2="266.80" y2="670.90" stroke="#262626" stroke-width="1.2"/>
<text x="266.80" y="681.00" font-size="8" text-anchor="middle" fill="#1e1e1e" stroke="#1e1e1e" stroke-width="0.08" textLength="11.50" lengthAdjust="spacingAndGlyphs">BM</text>
<rect x="295.90" y="569.99" width="16.40" height="98.41" fill="#ff9a00"/>
<line x1="303.60" y1="544.00" x2="303.60" y2="569.99" stroke="#333" stroke-width="0.9"/>
<line x1="301.80" y1="544.00" x2="305.40" y2="544.00" stroke="#333" stroke-width="0.9"/>
<line x1="304.10" y1="668.40" x2="304.10" y2="670.90" stroke="#262626" stroke-width="1.2"/>
<text x="304.10" y="681.00" font-size="8" text-anchor="middle" fill="#1e1e1e" stroke="#1e1e1e" stroke-width="0.08" textLength="22.00" lengthAdjust="spacingAndGlyphs">BM+S</text>
<rect x="332.90" y="612.40" width="16.30" height="56.00" fill="#f70034"/>
<line x1="340.55" y1="605.21" x2="340.55" y2="612.40" stroke="#333" stroke-width="0.9"/>
<line x1="338.75" y1="605.21" x2="342.35" y2="605.21" stroke="#333" stroke-width="0.9"/>
<line x1="341.05" y1="668.40" x2="341.05" y2="670.90" stroke="#262626" stroke-width="1.2"/>
<text x="341.05" y="681.00" font-size="8" text-anchor="middle" fill="#1e1e1e" stroke="#1e1e1e" stroke-width="0.08" textLength="16.00" lengthAdjust="spacingAndGlyphs">Cobi</text>
<line x1="303.60" y1="531.80" x2="341.80" y2="531.80" stroke="#222" stroke-width="1.2"/>
<circle cx="320.70" cy="526.60" r="1.1" fill="#1a1a1a"/>
<circle cx="324.50" cy="526.60" r="1.1" fill="#1a1a1a"/>
<text x="373.50" y="508.80" font-size="10" font-weight="bold" fill="#0a0a0a" stroke="#0a0a0a" stroke-width="0.25">M</text>
<line x1="406.90" y1="529.20" x2="406.90" y2="668.90" stroke="#262626" stroke-width="1.2"/>
<line x1="406.40" y1="668.50" x2="520.00" y2="668.50" stroke="#262626" stroke-width="1.2"/>
<line x1="404.20" y1="668.50" x2="406.90" y2="668.50" stroke="#262626" stroke-width="1.2"/>
<text x="403.70" y="670.90" font-size="8" text-anchor="end" fill="#1e1e1e" stroke="#1e1e1e" stroke-width="0.08">0</text>
<line x1="404.20" y1="623.33" x2="406.90" y2="623.33" stroke="#262626" stroke-width="1.2"/>
<text x="403.70" y="625.73" font-size="8" text-anchor="end" fill="#1e1e1e" stroke="#1e1e1e" stroke-width="0.08">0.01</text>
<line x1="404.20" y1="578.16" x2="406.90" y2="578.16" stroke="#262626" stroke-width="1.2"/>
<text x="403.70" y="580.56" font-size="8" text-anchor="end" fill="#1e1e1e" stroke="#1e1e1e" stroke-width="0.08">0.02</text>
<line x1="404.20" y1="532.99" x2="406.90" y2="532.99" stroke="#262626" stroke-width="1.2"/>
<text x="403.70" y="535.39" font-size="8" text-anchor="end" fill="#1e1e1e" stroke="#1e1e1e" stroke-width="0.08">0.03</text>
<text x="380.50" y="596.20" font-size="8.8" text-anchor="middle" fill="#1e1e1e" stroke="#1e1e1e" stroke-width="0.2" textLength="71.50" lengthAdjust="spacingAndGlyphs" transform="rotate(-90 380.50 596.20)">Compliance (mL/cmH<tspan font-size="5" dy="1.5">2</tspan><tspan dy="-1.5">0)</tspan></text>
<rect x="415.60" y="589.20" width="16.20" height="79.30" fill="#7a2f86"/>
<line x1="423.20" y1="573.40" x2="423.20" y2="589.20" stroke="#333" stroke-width="0.9"/>
<line x1="421.40" y1="573.40" x2="425.00" y2="573.40" stroke="#333" stroke-width="0.9"/>
<line x1="423.70" y1="668.50" x2="423.70" y2="671.00" stroke="#262626" stroke-width="1.2"/>
<text x="423.70" y="681.00" font-size="8" text-anchor="middle" fill="#1e1e1e" stroke="#1e1e1e" stroke-width="0.08" textLength="12.10" lengthAdjust="spacingAndGlyphs">BM</text>
<rect x="451.60" y="627.60" width="16.60" height="40.90" fill="#ff9a00"/>
<line x1="459.40" y1="621.80" x2="459.40" y2="627.60" stroke="#333" stroke-width="0.9"/>
<line x1="457.60" y1="621.80" x2="461.20" y2="621.80" stroke="#333" stroke-width="0.9"/>
<line x1="459.90" y1="668.50" x2="459.90" y2="671.00" stroke="#262626" stroke-width="1.2"/>
<text x="459.90" y="681.00" font-size="8" text-anchor="middle" fill="#1e1e1e" stroke="#1e1e1e" stroke-width="0.08" textLength="25.90" lengthAdjust="spacingAndGlyphs">BM+S</text>
<rect x="487.70" y="608.00" width="16.80" height="60.50" fill="#f70034"/>
<line x1="495.60" y1="604.50" x2="495.60" y2="608.00" stroke="#333" stroke-width="0.9"/>
<line x1="493.80" y1="604.50" x2="497.40" y2="604.50" stroke="#333" stroke-width="0.9"/>
<line x1="496.10" y1="668.50" x2="496.10" y2="671.00" stroke="#262626" stroke-width="1.2"/>
<text x="496.10" y="681.00" font-size="8" text-anchor="middle" fill="#1e1e1e" stroke="#1e1e1e" stroke-width="0.08" textLength="15.80" lengthAdjust="spacingAndGlyphs">Cobi</text>
<line x1="460.30" y1="560.40" x2="495.50" y2="560.40" stroke="#222" stroke-width="1.2"/>
<circle cx="477.60" cy="555.50" r="1.1" fill="#1a1a1a"/>
</svg>
</body></html>
